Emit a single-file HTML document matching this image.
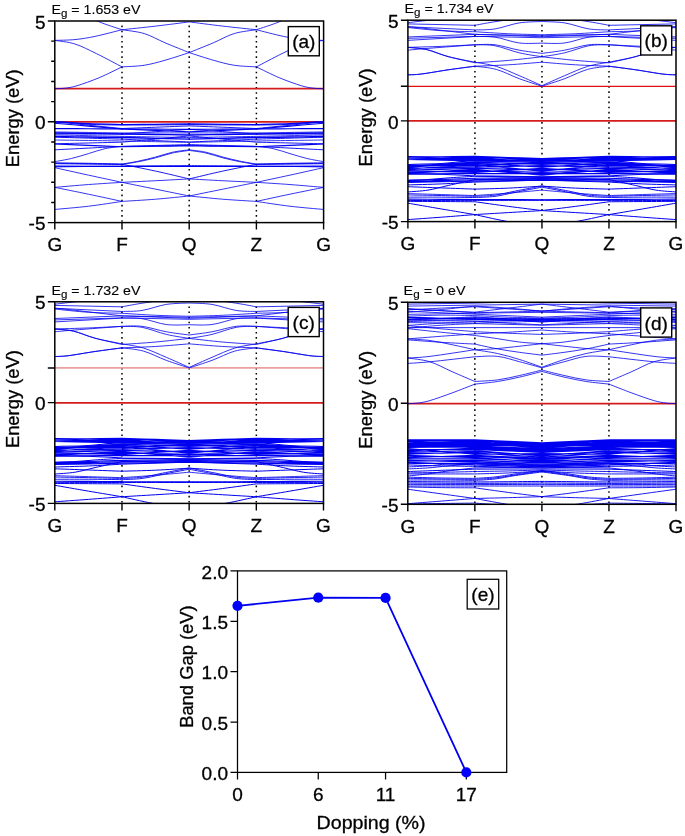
<!DOCTYPE html><html><head><meta charset="utf-8"><style>html,body{margin:0;padding:0;background:#fff;}svg{display:block;will-change:transform;}</style></head><body>
<svg width="685" height="836" viewBox="0 0 685 836" font-family='"Liberation Sans", sans-serif'><style>text{stroke:#000;stroke-width:0.3px;}</style>
<rect width="685" height="836" fill="#fff"/>
<clipPath id="clipa"><rect x="54.80" y="21.00" width="268.80" height="201.60"/></clipPath>
<line x1="122.00" y1="25.60" x2="122.00" y2="222.60" stroke="#000" stroke-width="1.5" stroke-dasharray="1.6 3.52"/>
<line x1="189.20" y1="25.60" x2="189.20" y2="222.60" stroke="#000" stroke-width="1.5" stroke-dasharray="1.6 3.52"/>
<line x1="256.40" y1="25.60" x2="256.40" y2="222.60" stroke="#000" stroke-width="1.5" stroke-dasharray="1.6 3.52"/>
<g clip-path="url(#clipa)">
<line x1="54.80" y1="121.90" x2="323.60" y2="121.90" stroke="#d41c1c" stroke-width="1.8"/>
<line x1="54.80" y1="88.71" x2="323.60" y2="88.71" stroke="#d41c1c" stroke-width="1.8"/>
</g>
<g clip-path="url(#clipa)" fill="none" stroke-linejoin="round">
<path stroke="#0000f0" stroke-width="0.80" d="M54.80 88.71C56.48 88.62 61.18 88.66 64.88 88.17C68.58 87.67 71.26 87.50 76.98 85.76C82.69 84.02 91.65 80.87 99.15 77.72C106.66 74.58 118.19 68.69 122.00 66.88M323.60 88.71C321.92 88.62 317.22 88.66 313.52 88.17C309.82 87.67 307.14 87.50 301.42 85.76C295.71 84.02 286.75 80.87 279.25 77.72C271.74 74.58 260.21 68.69 256.40 66.88M122.00 66.88C125.70 66.61 137.01 66.38 144.18 65.27C151.34 64.17 157.50 62.36 165.01 60.25C172.51 58.15 185.17 53.90 189.20 52.62M256.40 66.88C252.70 66.61 241.39 66.38 234.22 65.27C227.06 64.17 220.90 62.36 213.39 60.25C205.89 58.15 193.23 53.90 189.20 52.62M54.80 40.38C58.16 40.98 68.02 41.78 74.96 43.99C81.90 46.20 88.62 49.81 96.46 53.63C104.30 57.44 117.74 64.67 122.00 66.88M323.60 40.38C320.24 40.98 310.38 41.78 303.44 43.99C296.50 46.20 289.78 49.81 281.94 53.63C274.10 57.44 260.66 64.67 256.40 66.88M54.80 40.38C58.16 40.24 68.24 40.24 74.96 39.57C81.68 38.90 87.28 38.00 95.12 36.36C102.96 34.72 117.52 30.84 122.00 29.73M323.60 40.38C320.24 40.24 310.16 40.24 303.44 39.57C296.72 38.90 291.12 38.00 283.28 36.36C275.44 34.72 260.88 30.84 256.40 29.73M122.00 29.73C127.60 29.13 144.40 27.42 155.60 26.12C166.80 24.81 183.60 22.60 189.20 21.90M256.40 29.73C250.80 29.13 234.00 27.42 222.80 26.12C211.60 24.81 194.80 22.60 189.20 21.90M74.96 9.45C78.88 11.46 90.64 18.12 98.48 21.50C106.32 24.88 118.08 28.36 122.00 29.73M303.44 9.45C299.52 11.46 287.76 18.12 279.92 21.50C272.08 24.88 260.32 28.36 256.40 29.73M122.00 29.73C125.70 30.37 137.01 31.37 144.18 33.55C151.34 35.72 157.50 39.61 165.01 42.78C172.51 45.96 185.17 50.98 189.20 52.62M256.40 29.73C252.70 30.37 241.39 31.37 234.22 33.55C227.06 35.72 220.90 39.61 213.39 42.78C205.89 45.96 193.23 50.98 189.20 52.62M54.80 131.94C60.40 132.02 77.20 132.27 88.40 132.44C99.60 132.61 116.40 132.86 122.00 132.94M323.60 131.94C318.00 132.02 301.20 132.27 290.00 132.44C278.80 132.61 262.00 132.86 256.40 132.94M122.00 132.94C127.60 132.94 144.40 132.94 155.60 132.94C166.80 132.94 183.60 132.94 189.20 132.94M256.40 132.94C250.80 132.94 234.00 132.94 222.80 132.94C211.60 132.94 194.80 132.94 189.20 132.94M54.80 134.95C60.40 135.07 77.20 135.42 88.40 135.65C99.60 135.89 116.40 136.24 122.00 136.36M323.60 134.95C318.00 135.07 301.20 135.42 290.00 135.65C278.80 135.89 262.00 136.24 256.40 136.36M122.00 136.36C127.60 136.46 144.40 136.76 155.60 136.96C166.80 137.16 183.60 137.46 189.20 137.56M256.40 136.36C250.80 136.46 234.00 136.76 222.80 136.96C211.60 137.16 194.80 137.46 189.20 137.56M54.80 139.97C60.40 140.06 77.20 140.31 88.40 140.47C99.60 140.64 116.40 140.89 122.00 140.98M323.60 139.97C318.00 140.06 301.20 140.31 290.00 140.47C278.80 140.64 262.00 140.89 256.40 140.98M122.00 140.98C127.60 141.09 144.40 141.44 155.60 141.68C166.80 141.91 183.60 142.26 189.20 142.38M256.40 140.98C250.80 141.09 234.00 141.44 222.80 141.68C211.60 141.91 194.80 142.26 189.20 142.38M54.80 161.66C57.60 161.12 66.00 159.78 71.60 158.45C77.20 157.11 82.80 155.27 88.40 153.63C94.00 151.99 99.60 149.81 105.20 148.61C110.80 147.40 119.20 146.77 122.00 146.40M323.60 161.66C320.80 161.12 312.40 159.78 306.80 158.45C301.20 157.11 295.60 155.27 290.00 153.63C284.40 151.99 278.80 149.81 273.20 148.61C267.60 147.40 259.20 146.77 256.40 146.40M122.00 146.40C127.60 146.33 144.40 146.16 155.60 146.00C166.80 145.83 183.60 145.49 189.20 145.39M256.40 146.40C250.80 146.33 234.00 146.16 222.80 146.00C211.60 145.83 194.80 145.49 189.20 145.39M54.80 162.86C60.40 162.93 77.20 163.06 88.40 163.26C99.60 163.47 116.40 163.93 122.00 164.07M323.60 162.86C318.00 162.93 301.20 163.06 290.00 163.26C278.80 163.47 262.00 163.93 256.40 164.07M122.00 164.07C124.80 163.57 133.20 162.23 138.80 161.06C144.40 159.88 150.00 158.51 155.60 157.04C161.20 155.57 166.80 153.43 172.40 152.22C178.00 151.02 186.40 150.21 189.20 149.81M256.40 164.07C253.60 163.57 245.20 162.23 239.60 161.06C234.00 159.88 228.40 158.51 222.80 157.04C217.20 155.57 211.60 153.43 206.00 152.22C200.40 151.02 192.00 150.21 189.20 149.81M54.80 163.26C60.40 163.33 77.20 163.47 88.40 163.67C99.60 163.87 116.40 164.34 122.00 164.47M323.60 163.26C318.00 163.33 301.20 163.47 290.00 163.67C278.80 163.87 262.00 164.34 256.40 164.47M122.00 164.47C124.80 164.00 133.20 162.76 138.80 161.66C144.40 160.55 150.00 159.28 155.60 157.84C161.20 156.40 166.80 154.26 172.40 153.02C178.00 151.79 186.40 150.85 189.20 150.41M256.40 164.47C253.60 164.00 245.20 162.76 239.60 161.66C234.00 160.55 228.40 159.28 222.80 157.84C217.20 156.40 211.60 154.26 206.00 153.02C200.40 151.79 192.00 150.85 189.20 150.41M54.80 167.68C60.40 168.92 77.20 172.67 88.40 175.11C99.60 177.56 116.40 181.14 122.00 182.34M323.60 167.68C318.00 168.92 301.20 172.67 290.00 175.11C278.80 177.56 262.00 181.14 256.40 182.34M122.00 182.34C127.60 182.07 144.40 181.30 155.60 180.73C166.80 180.17 183.60 179.23 189.20 178.93M256.40 182.34C250.80 182.07 234.00 181.30 222.80 180.73C211.60 180.17 194.80 179.23 189.20 178.93M54.80 187.36C60.40 186.89 77.20 185.39 88.40 184.55C99.60 183.71 116.40 182.71 122.00 182.34M323.60 187.36C318.00 186.89 301.20 185.39 290.00 184.55C278.80 183.71 262.00 182.71 256.40 182.34M122.00 182.34C127.60 183.48 144.40 186.89 155.60 189.17C166.80 191.44 183.60 194.86 189.20 196.00M256.40 182.34C250.80 183.48 234.00 186.89 222.80 189.17C211.60 191.44 194.80 194.86 189.20 196.00M54.80 187.36C60.40 188.50 77.20 191.85 88.40 194.19C99.60 196.53 116.40 200.21 122.00 201.42M323.60 187.36C318.00 188.50 301.20 191.85 290.00 194.19C278.80 196.53 262.00 200.21 256.40 201.42M122.00 201.42C127.60 201.05 144.40 200.11 155.60 199.21C166.80 198.30 183.60 196.53 189.20 196.00M256.40 201.42C250.80 201.05 234.00 200.11 222.80 199.21C211.60 198.30 194.80 196.53 189.20 196.00M54.80 209.45C60.40 208.91 77.20 207.57 88.40 206.24C99.60 204.90 116.40 202.22 122.00 201.42M323.60 209.45C318.00 208.91 301.20 207.57 290.00 206.24C278.80 204.90 262.00 202.22 256.40 201.42"/>
<path stroke="#0000f0" stroke-width="0.90" d="M54.80 121.90C57.04 122.00 62.64 122.10 68.24 122.50C73.84 122.90 79.44 123.87 88.40 124.31C97.36 124.74 116.40 124.98 122.00 125.11M323.60 121.90C321.36 122.00 315.76 122.10 310.16 122.50C304.56 122.90 298.96 123.87 290.00 124.31C281.04 124.74 262.00 124.98 256.40 125.11M122.00 125.11C127.60 125.08 144.40 124.98 155.60 124.91C166.80 124.85 183.60 124.74 189.20 124.71M256.40 125.11C250.80 125.08 234.00 124.98 222.80 124.91C211.60 124.85 194.80 124.74 189.20 124.71M54.80 121.90C60.40 122.45 77.20 124.11 88.40 125.21C99.60 126.32 116.40 127.97 122.00 128.53M323.60 121.90C318.00 122.45 301.20 124.11 290.00 125.21C278.80 126.32 262.00 127.97 256.40 128.53M122.00 128.53C127.60 128.31 144.40 127.66 155.60 127.22C166.80 126.79 183.60 126.13 189.20 125.92M256.40 128.53C250.80 128.31 234.00 127.66 222.80 127.22C211.60 126.79 194.80 126.13 189.20 125.92M54.80 133.95C60.40 133.95 77.20 133.95 88.40 133.95C99.60 133.95 116.40 133.95 122.00 133.95M323.60 133.95C318.00 133.95 301.20 133.95 290.00 133.95C278.80 133.95 262.00 133.95 256.40 133.95M122.00 133.95C127.60 133.56 144.40 132.41 155.60 131.64C166.80 130.87 183.60 129.71 189.20 129.33M256.40 133.95C250.80 133.56 234.00 132.41 222.80 131.64C211.60 130.87 194.80 129.71 189.20 129.33M54.80 137.16C60.40 137.33 77.20 137.83 88.40 138.16C99.60 138.50 116.40 139.00 122.00 139.17M323.60 137.16C318.00 137.33 301.20 137.83 290.00 138.16C278.80 138.50 262.00 139.00 256.40 139.17M122.00 139.17C127.60 139.40 144.40 140.11 155.60 140.57C166.80 141.04 183.60 141.75 189.20 141.98M256.40 139.17C250.80 139.40 234.00 140.11 222.80 140.57C211.60 141.04 194.80 141.75 189.20 141.98M54.80 143.79C60.40 143.65 77.20 143.25 88.40 142.98C99.60 142.72 116.40 142.31 122.00 142.18M323.60 143.79C318.00 143.65 301.20 143.25 290.00 142.98C278.80 142.72 262.00 142.31 256.40 142.18M122.00 142.18C127.60 141.66 144.40 140.11 155.60 139.07C166.80 138.03 183.60 136.47 189.20 135.96M256.40 142.18C250.80 141.66 234.00 140.11 222.80 139.07C211.60 138.03 194.80 136.47 189.20 135.96M54.80 149.81C60.40 149.53 77.20 148.67 88.40 148.10C99.60 147.54 116.40 146.68 122.00 146.40M323.60 149.81C318.00 149.53 301.20 148.67 290.00 148.10C278.80 147.54 262.00 146.68 256.40 146.40M122.00 146.40C127.60 146.25 144.40 145.80 155.60 145.49C166.80 145.19 183.60 144.74 189.20 144.59M256.40 146.40C250.80 146.25 234.00 145.80 222.80 145.49C211.60 145.19 194.80 144.74 189.20 144.59M54.80 163.67C60.40 163.73 77.20 163.97 88.40 164.07C99.60 164.17 116.40 164.24 122.00 164.27M323.60 163.67C318.00 163.73 301.20 163.97 290.00 164.07C278.80 164.17 262.00 164.24 256.40 164.27M122.00 164.27C127.60 165.41 144.40 168.65 155.60 171.10C166.80 173.54 183.60 177.62 189.20 178.93M256.40 164.27C250.80 165.41 234.00 168.65 222.80 171.10C211.60 173.54 194.80 177.62 189.20 178.93"/>
<path stroke="#0000f0" stroke-width="1.00" d="M54.80 166.88C66.00 166.75 99.60 166.28 122.00 166.08C144.40 165.88 178.00 165.74 189.20 165.67M323.60 166.88C312.40 166.75 278.80 166.28 256.40 166.08C234.00 165.88 200.40 165.74 189.20 165.67"/>
<path stroke="#0000f0" stroke-width="1.10" d="M54.80 123.31C60.40 123.77 77.20 125.18 88.40 126.12C99.60 127.05 116.40 128.46 122.00 128.93M323.60 123.31C318.00 123.77 301.20 125.18 290.00 126.12C278.80 127.05 262.00 128.46 256.40 128.93M122.00 128.93C127.60 128.96 144.40 129.06 155.60 129.13C166.80 129.20 183.60 129.30 189.20 129.33M256.40 128.93C250.80 128.96 234.00 129.06 222.80 129.13C211.60 129.20 194.80 129.30 189.20 129.33M54.80 143.99C60.40 144.22 77.20 144.93 88.40 145.39C99.60 145.86 116.40 146.56 122.00 146.80M323.60 143.99C318.00 144.22 301.20 144.93 290.00 145.39C278.80 145.86 262.00 146.56 256.40 146.80M122.00 146.80C127.60 146.72 144.40 146.46 155.60 146.30C166.80 146.13 183.60 145.88 189.20 145.80M256.40 146.80C250.80 146.72 234.00 146.46 222.80 146.30C211.60 146.13 194.80 145.88 189.20 145.80M54.80 166.08C66.00 166.14 99.60 166.41 122.00 166.48C144.40 166.54 178.00 166.48 189.20 166.48M323.60 166.08C312.40 166.14 278.80 166.41 256.40 166.48C234.00 166.54 200.40 166.48 189.20 166.48"/>
<path stroke="#0000f0" stroke-width="1.20" d="M54.80 121.90C57.04 121.97 62.64 122.00 68.24 122.30C73.84 122.60 79.44 123.34 88.40 123.71C97.36 124.08 116.40 124.38 122.00 124.51M323.60 121.90C321.36 121.97 315.76 122.00 310.16 122.30C304.56 122.60 298.96 123.34 290.00 123.71C281.04 124.08 262.00 124.38 256.40 124.51M122.00 124.51C127.60 124.48 144.40 124.41 155.60 124.31C166.80 124.21 183.60 123.97 189.20 123.91M256.40 124.51C250.80 124.48 234.00 124.41 222.80 124.31C211.60 124.21 194.80 123.97 189.20 123.91M54.80 128.53C60.40 128.56 77.20 128.66 88.40 128.73C99.60 128.79 116.40 128.89 122.00 128.93M323.60 128.53C318.00 128.56 301.20 128.66 290.00 128.73C278.80 128.79 262.00 128.89 256.40 128.93M122.00 128.93C127.60 129.18 144.40 129.93 155.60 130.43C166.80 130.94 183.60 131.69 189.20 131.94M256.40 128.93C250.80 129.18 234.00 129.93 222.80 130.43C211.60 130.94 194.80 131.69 189.20 131.94"/>
<path stroke="#0000f0" stroke-width="1.40" d="M54.80 132.94C60.40 133.03 77.20 133.28 88.40 133.45C99.60 133.61 116.40 133.86 122.00 133.95M323.60 132.94C318.00 133.03 301.20 133.28 290.00 133.45C278.80 133.61 262.00 133.86 256.40 133.95M122.00 133.95C127.60 134.03 144.40 134.28 155.60 134.45C166.80 134.62 183.60 134.87 189.20 134.95M256.40 133.95C250.80 134.03 234.00 134.28 222.80 134.45C211.60 134.62 194.80 134.87 189.20 134.95M54.80 136.56C60.40 136.64 77.20 136.89 88.40 137.06C99.60 137.23 116.40 137.48 122.00 137.56M323.60 136.56C318.00 136.64 301.20 136.89 290.00 137.06C278.80 137.23 262.00 137.48 256.40 137.56M122.00 137.56C127.60 137.70 144.40 138.10 155.60 138.37C166.80 138.63 183.60 139.03 189.20 139.17M256.40 137.56C250.80 137.70 234.00 138.10 222.80 138.37C211.60 138.63 194.80 139.03 189.20 139.17"/>
</g>
<rect x="54.80" y="21.00" width="268.80" height="201.60" fill="none" stroke="#000" stroke-width="1.5"/>
<path d="M47.80 222.60H54.80M51.20 202.44H54.80M51.20 182.28H54.80M51.20 162.12H54.80M51.20 141.96H54.80M47.80 121.80H54.80M51.20 101.64H54.80M51.20 81.48H54.80M51.20 61.32H54.80M51.20 41.16H54.80M47.80 21.00H54.80M54.80 222.60V229.60M122.00 222.60V229.60M189.20 222.60V229.60M256.40 222.60V229.60M323.60 222.60V229.60" stroke="#000" stroke-width="1.4" fill="none"/>
<text x="45.50" y="28.60" font-size="19" text-anchor="end">5</text>
<text x="45.50" y="129.40" font-size="19" text-anchor="end">0</text>
<text x="45.50" y="230.20" font-size="19" text-anchor="end">-5</text>
<text x="54.80" y="251.00" font-size="19" text-anchor="middle">G</text>
<text x="122.00" y="251.00" font-size="19" text-anchor="middle">F</text>
<text x="189.20" y="251.00" font-size="19" text-anchor="middle">Q</text>
<text x="256.40" y="251.00" font-size="19" text-anchor="middle">Z</text>
<text x="323.60" y="251.00" font-size="19" text-anchor="middle">G</text>
<text transform="translate(18.80 118.30) rotate(-90)" font-size="19" text-anchor="middle" textLength="98" lengthAdjust="spacingAndGlyphs">Energy (eV)</text>
<text x="51.45" y="13.70" font-size="13.3" style="stroke-width:0.12px" textLength="89.0" lengthAdjust="spacingAndGlyphs">E<tspan font-size="10.8" dy="3.2">g</tspan><tspan dy="-3.2"> = 1.653 eV</tspan></text>
<rect x="288.30" y="26.60" width="31.00" height="29.20" fill="#fff" stroke="#000" stroke-width="1.4"/>
<text x="303.80" y="48.20" font-size="19" text-anchor="middle">(a)</text>
<clipPath id="clipb"><rect x="407.90" y="20.20" width="268.10" height="201.40"/></clipPath>
<line x1="474.92" y1="24.80" x2="474.92" y2="221.60" stroke="#000" stroke-width="1.5" stroke-dasharray="1.6 3.52"/>
<line x1="541.95" y1="24.80" x2="541.95" y2="221.60" stroke="#000" stroke-width="1.5" stroke-dasharray="1.6 3.52"/>
<line x1="608.98" y1="24.80" x2="608.98" y2="221.60" stroke="#000" stroke-width="1.5" stroke-dasharray="1.6 3.52"/>
<g clip-path="url(#clipb)">
<line x1="407.90" y1="120.95" x2="676.00" y2="120.95" stroke="#d41c1c" stroke-width="1.8"/>
<line x1="407.90" y1="86.40" x2="676.00" y2="86.40" stroke="#dd1111" stroke-width="1.4"/>
</g>
<g clip-path="url(#clipb)" fill="none" stroke-linejoin="round">
<path stroke="#0000f0" stroke-width="0.80" d="M407.90 74.84C410.13 74.70 414.60 74.87 421.30 74.03C428.01 73.20 439.18 71.13 448.12 69.82C457.05 68.52 470.46 66.82 474.92 66.21M676.00 74.84C673.77 74.70 669.30 74.87 662.60 74.03C655.89 73.20 644.72 71.13 635.78 69.82C626.85 68.52 613.44 66.82 608.98 66.21M474.92 66.21C478.50 66.75 489.00 67.35 496.37 69.42C503.75 71.49 511.57 75.85 519.16 78.64C526.76 81.44 538.15 84.93 541.95 86.18M608.98 66.21C605.40 66.75 594.90 67.35 587.53 69.42C580.15 71.49 572.33 75.85 564.74 78.64C557.14 81.44 545.75 84.93 541.95 86.18M407.90 74.84C410.13 74.70 414.60 74.87 421.30 74.03C428.01 73.20 439.18 71.13 448.12 69.82C457.05 68.52 470.46 66.82 474.92 66.21M676.00 74.84C673.77 74.70 669.30 74.87 662.60 74.03C655.89 73.20 644.72 71.13 635.78 69.82C626.85 68.52 613.44 66.82 608.98 66.21M474.92 66.21C480.51 65.98 497.27 65.48 508.44 64.81C519.61 64.14 536.36 62.64 541.95 62.20M608.98 66.21C603.39 65.98 586.63 65.48 575.46 64.81C564.29 64.14 547.54 62.64 541.95 62.20M407.90 47.37C411.03 47.73 419.96 48.03 426.67 49.57C433.37 51.11 440.07 54.48 448.12 56.59C456.16 58.69 470.46 61.27 474.92 62.20M676.00 47.37C672.87 47.73 663.94 48.03 657.23 49.57C650.53 51.11 643.83 54.48 635.78 56.59C627.74 58.69 613.44 61.27 608.98 62.20M474.92 62.20C478.50 62.91 489.00 64.18 496.37 66.41C503.75 68.65 511.57 72.43 519.16 75.64C526.76 78.84 538.15 83.99 541.95 85.66M608.98 62.20C605.40 62.91 594.90 64.18 587.53 66.41C580.15 68.65 572.33 72.43 564.74 75.64C557.14 78.84 545.75 83.99 541.95 85.66M407.90 47.37C411.03 47.73 419.96 48.03 426.67 49.57C433.37 51.11 440.07 54.38 448.12 56.59C456.16 58.80 470.46 61.77 474.92 62.80M676.00 47.37C672.87 47.73 663.94 48.03 657.23 49.57C650.53 51.11 643.83 54.38 635.78 56.59C627.74 58.80 613.44 61.77 608.98 62.80M474.92 62.80C480.51 62.40 497.27 61.40 508.44 60.40C519.61 59.40 536.36 57.39 541.95 56.79M608.98 62.80C603.39 62.40 586.63 61.40 575.46 60.40C564.29 59.40 547.54 57.39 541.95 56.79M407.90 50.17C411.25 49.87 416.84 49.27 428.01 48.37C439.18 47.47 467.11 45.36 474.92 44.76M676.00 50.17C672.65 49.87 667.06 49.27 655.89 48.37C644.72 47.47 616.79 45.36 608.98 44.76M474.92 44.76C478.28 44.76 487.66 43.86 495.03 44.76C502.41 45.66 511.34 48.74 519.16 50.17C526.98 51.61 538.15 52.85 541.95 53.38M608.98 44.76C605.62 44.76 596.24 43.86 588.87 44.76C581.49 45.66 572.56 48.74 564.74 50.17C556.92 51.61 545.75 52.85 541.95 53.38M407.90 47.37C413.49 47.20 430.24 46.80 441.41 46.36C452.58 45.93 469.34 45.03 474.92 44.76M676.00 47.37C670.41 47.20 653.66 46.80 642.49 46.36C631.32 45.93 614.56 45.03 608.98 44.76M474.92 44.76C478.28 44.93 487.66 44.43 495.03 45.76C502.41 47.10 511.34 50.94 519.16 52.78C526.98 54.62 538.15 56.12 541.95 56.79M608.98 44.76C605.62 44.93 596.24 44.43 588.87 45.76C581.49 47.10 572.56 50.94 564.74 52.78C556.92 54.62 545.75 56.12 541.95 56.79M407.90 40.35L474.92 36.54M676.00 40.35L608.98 36.54M474.92 36.54C478.28 36.64 487.66 36.07 495.03 37.14C502.41 38.21 511.34 41.95 519.16 42.96C526.98 43.96 538.15 43.12 541.95 43.16M608.98 36.54C605.62 36.64 596.24 36.07 588.87 37.14C581.49 38.21 572.56 41.95 564.74 42.96C556.92 43.96 545.75 43.12 541.95 43.16M407.90 36.94L474.92 34.33M676.00 36.94L608.98 34.33M474.92 34.33L541.95 36.74M608.98 34.33L541.95 36.74M407.90 38.34L474.92 36.34M676.00 38.34L608.98 36.34M474.92 36.34L541.95 37.74M608.98 36.34L541.95 37.74M407.90 26.71C411.25 27.05 416.84 27.45 428.01 28.72C439.18 29.99 467.11 33.40 474.92 34.33M676.00 26.71C672.65 27.05 667.06 27.45 655.89 28.72C644.72 29.99 616.79 33.40 608.98 34.33M474.92 34.33L541.95 35.74M608.98 34.33L541.95 35.74M407.90 26.71L474.92 29.92M676.00 26.71L608.98 29.92M474.92 29.92C478.28 29.76 487.66 30.09 495.03 28.92C502.41 27.75 511.34 24.14 519.16 22.91C526.98 21.67 538.15 21.74 541.95 21.50M608.98 29.92C605.62 29.76 596.24 30.09 588.87 28.92C581.49 27.75 572.56 24.14 564.74 22.91C556.92 21.67 545.75 21.74 541.95 21.50M407.90 23.91L474.92 25.31M676.00 23.91L608.98 25.31M474.92 25.31C478.28 24.71 483.86 23.47 495.03 21.70C506.20 19.93 534.13 15.85 541.95 14.69M608.98 25.31C605.62 24.71 600.04 23.47 588.87 21.70C577.70 19.93 549.77 15.85 541.95 14.69M407.90 22.70C413.49 22.04 430.24 20.03 441.41 18.70C452.58 17.36 469.34 15.35 474.92 14.69M676.00 22.70C670.41 22.04 653.66 20.03 642.49 18.70C631.32 17.36 614.56 15.35 608.98 14.69M407.90 27.52C413.49 28.05 430.24 30.02 441.41 30.72C452.58 31.43 469.34 31.56 474.92 31.73M676.00 27.52C670.41 28.05 653.66 30.02 642.49 30.72C631.32 31.43 614.56 31.56 608.98 31.73M474.92 31.73C480.51 32.06 497.27 33.23 508.44 33.73C519.61 34.23 536.36 34.57 541.95 34.73M608.98 31.73C603.39 32.06 586.63 33.23 575.46 33.73C564.29 34.23 547.54 34.57 541.95 34.73M407.90 193.53C413.49 193.70 430.24 194.20 441.41 194.53C452.58 194.87 469.34 195.37 474.92 195.54M676.00 193.53C670.41 193.70 653.66 194.20 642.49 194.53C631.32 194.87 614.56 195.37 608.98 195.54M474.92 195.54C480.51 195.13 497.27 194.03 508.44 193.13C519.61 192.23 536.36 190.62 541.95 190.12M608.98 195.54C603.39 195.13 586.63 194.03 575.46 193.13C564.29 192.23 547.54 190.62 541.95 190.12"/>
<path stroke="#0000f0" stroke-width="0.90" d="M407.90 194.93C413.49 195.03 430.24 195.30 441.41 195.54C452.58 195.77 469.34 196.20 474.92 196.34M676.00 194.93C670.41 195.03 653.66 195.30 642.49 195.54C631.32 195.77 614.56 196.20 608.98 196.34M474.92 196.34C478.28 196.14 488.33 196.00 495.03 195.13C501.73 194.27 507.32 192.66 515.14 191.12C522.96 189.59 537.48 186.78 541.95 185.91M608.98 196.34C605.62 196.14 595.57 196.00 588.87 195.13C582.17 194.27 576.58 192.66 568.76 191.12C560.94 189.59 546.42 186.78 541.95 185.91M407.90 197.14C413.49 197.14 430.24 197.07 441.41 197.14C452.58 197.21 469.34 197.47 474.92 197.54M676.00 197.14C670.41 197.14 653.66 197.07 642.49 197.14C631.32 197.21 614.56 197.47 608.98 197.54M474.92 197.54C478.28 197.34 488.33 197.21 495.03 196.34C501.73 195.47 507.32 193.87 515.14 192.33C522.96 190.79 537.48 187.98 541.95 187.12M608.98 197.54C605.62 197.34 595.57 197.21 588.87 196.34C582.17 195.47 576.58 193.87 568.76 192.33C560.94 190.79 546.42 187.98 541.95 187.12"/>
<path stroke="#0000f0" stroke-width="1.00" d="M407.90 180.10C411.25 180.00 421.31 179.86 428.01 179.50C434.71 179.13 441.41 178.36 448.12 177.89C454.82 177.42 463.75 176.96 468.22 176.69C472.69 176.42 473.81 176.35 474.92 176.29M676.00 180.10C672.65 180.00 662.60 179.86 655.89 179.50C649.19 179.13 642.49 178.36 635.78 177.89C629.08 177.42 620.15 176.96 615.68 176.69C611.21 176.42 610.09 176.35 608.98 176.29M474.92 176.29L541.95 177.09M608.98 176.29L541.95 177.09M407.90 184.91C413.49 184.74 430.24 184.37 441.41 183.91C452.58 183.44 469.34 182.40 474.92 182.10M676.00 184.91C670.41 184.74 653.66 184.37 642.49 183.91C631.32 183.44 614.56 182.40 608.98 182.10M474.92 182.10L541.95 180.10M608.98 182.10L541.95 180.10M407.90 186.71C413.49 186.91 430.24 187.52 441.41 187.92C452.58 188.32 469.34 188.92 474.92 189.12M676.00 186.71C670.41 186.91 653.66 187.52 642.49 187.92C631.32 188.32 614.56 188.92 608.98 189.12M474.92 189.12C480.51 188.95 497.27 188.62 508.44 188.12C519.61 187.62 536.36 186.45 541.95 186.11M608.98 189.12C603.39 188.95 586.63 188.62 575.46 188.12C564.29 187.62 547.54 186.45 541.95 186.11M407.90 191.93C411.25 191.63 421.31 191.19 428.01 190.12C434.71 189.05 440.30 187.28 448.12 185.51C455.93 183.74 470.46 180.50 474.92 179.50M676.00 191.93C672.65 191.63 662.60 191.19 655.89 190.12C649.19 189.05 643.60 187.28 635.78 185.51C627.97 183.74 613.44 180.50 608.98 179.50M474.92 179.50L541.95 178.69M608.98 179.50L541.95 178.69M407.90 200.55C413.49 200.53 430.24 200.48 441.41 200.45C452.58 200.41 469.34 200.36 474.92 200.35M676.00 200.55C670.41 200.53 653.66 200.48 642.49 200.45C631.32 200.41 614.56 200.36 608.98 200.35M474.92 200.35C480.51 200.35 497.27 200.35 508.44 200.35C519.61 200.35 536.36 200.35 541.95 200.35M608.98 200.35C603.39 200.35 586.63 200.35 575.46 200.35C564.29 200.35 547.54 200.35 541.95 200.35M407.90 201.35C413.49 201.38 430.24 201.48 441.41 201.55C452.58 201.62 469.34 201.72 474.92 201.75M676.00 201.35C670.41 201.38 653.66 201.48 642.49 201.55C631.32 201.62 614.56 201.72 608.98 201.75M474.92 201.75C480.51 202.52 497.27 204.89 508.44 206.36C519.61 207.83 536.36 209.87 541.95 210.57M608.98 201.75C603.39 202.52 586.63 204.89 575.46 206.36C564.29 207.83 547.54 209.87 541.95 210.57M407.90 203.16C413.49 204.12 430.24 207.06 441.41 208.97C452.58 210.87 469.34 213.65 474.92 214.58M676.00 203.16C670.41 204.12 653.66 207.06 642.49 208.97C631.32 210.87 614.56 213.65 608.98 214.58M474.92 214.58C480.06 215.69 494.59 219.09 505.76 221.20C516.93 223.31 535.92 226.21 541.95 227.22M608.98 214.58C603.84 215.69 589.31 219.09 578.14 221.20C566.97 223.31 547.98 226.21 541.95 227.22M407.90 219.60C413.49 219.19 430.24 218.03 441.41 217.19C452.58 216.35 469.34 215.02 474.92 214.58M676.00 219.60C670.41 219.19 653.66 218.03 642.49 217.19C631.32 216.35 614.56 215.02 608.98 214.58M474.92 214.58C480.51 214.25 497.27 213.25 508.44 212.58C519.61 211.91 536.36 210.91 541.95 210.57M608.98 214.58C603.39 214.25 586.63 213.25 575.46 212.58C564.29 211.91 547.54 210.91 541.95 210.57"/>
<path stroke="#0000f0" stroke-width="1.10" d="M407.90 164.46C413.49 164.29 432.48 163.92 441.41 163.46C450.35 162.99 455.93 162.09 461.52 161.65C467.11 161.22 472.69 160.98 474.92 160.85M676.00 164.46C670.41 164.29 651.42 163.92 642.49 163.46C633.55 162.99 627.97 162.09 622.38 161.65C616.79 161.22 611.21 160.98 608.98 160.85M474.92 160.85L541.95 162.65M608.98 160.85L541.95 162.65M407.90 173.68C413.49 173.78 431.36 173.98 441.41 174.28C451.47 174.58 462.64 175.22 468.22 175.49C473.81 175.75 473.81 175.82 474.92 175.89M676.00 173.68C670.41 173.78 652.54 173.98 642.49 174.28C632.43 174.58 621.26 175.22 615.68 175.49C610.09 175.75 610.09 175.82 608.98 175.89M474.92 175.89L541.95 176.69M608.98 175.89L541.95 176.69M407.90 180.50C413.49 180.31 430.24 179.76 441.41 179.40C452.58 179.03 469.34 178.48 474.92 178.29M676.00 180.50C670.41 180.31 653.66 179.76 642.49 179.40C631.32 179.03 614.56 178.48 608.98 178.29M474.92 178.29C480.51 178.23 497.27 178.03 508.44 177.89C519.61 177.76 536.36 177.56 541.95 177.49M608.98 178.29C603.39 178.23 586.63 178.03 575.46 177.89C564.29 177.76 547.54 177.56 541.95 177.49M407.90 181.50C413.49 181.35 430.24 180.90 441.41 180.60C452.58 180.30 469.34 179.85 474.92 179.70M676.00 181.50C670.41 181.35 653.66 180.90 642.49 180.60C631.32 180.30 614.56 179.85 608.98 179.70M474.92 179.70C480.51 179.62 497.27 179.40 508.44 179.25C519.61 179.10 536.36 178.87 541.95 178.79M608.98 179.70C603.39 179.62 586.63 179.40 575.46 179.25C564.29 179.10 547.54 178.87 541.95 178.79M407.90 182.50C413.49 182.39 430.24 182.04 441.41 181.80C452.58 181.57 469.34 181.22 474.92 181.10M676.00 182.50C670.41 182.39 653.66 182.04 642.49 181.80C631.32 181.57 614.56 181.22 608.98 181.10M474.92 181.10C480.51 181.02 497.27 180.77 508.44 180.60C519.61 180.43 536.36 180.18 541.95 180.10M608.98 181.10C603.39 181.02 586.63 180.77 575.46 180.60C564.29 180.43 547.54 180.18 541.95 180.10"/>
<path stroke="#0000f0" stroke-width="1.20" d="M407.90 199.15C413.49 199.18 430.24 199.28 441.41 199.35C452.58 199.41 469.34 199.51 474.92 199.55M676.00 199.15C670.41 199.18 653.66 199.28 642.49 199.35C631.32 199.41 614.56 199.51 608.98 199.55M474.92 199.55C480.51 199.56 497.27 199.61 508.44 199.65C519.61 199.68 536.36 199.73 541.95 199.75M608.98 199.55C603.39 199.56 586.63 199.61 575.46 199.65C564.29 199.68 547.54 199.73 541.95 199.75"/>
<path stroke="#0000f0" stroke-width="1.30" d="M407.90 156.64C413.49 156.69 430.24 156.85 441.41 156.96C452.58 157.07 469.34 157.23 474.92 157.28M676.00 156.64C670.41 156.69 653.66 156.85 642.49 156.96C631.32 157.07 614.56 157.23 608.98 157.28M474.92 157.28C480.51 157.45 497.27 157.96 508.44 158.30C519.61 158.64 536.36 159.16 541.95 159.33M608.98 157.28C603.39 157.45 586.63 157.96 575.46 158.30C564.29 158.64 547.54 159.16 541.95 159.33M407.90 157.20C413.49 157.14 430.24 156.95 441.41 156.82C452.58 156.69 469.34 156.50 474.92 156.44M676.00 157.20C670.41 157.14 653.66 156.95 642.49 156.82C631.32 156.69 614.56 156.50 608.98 156.44M474.92 156.44C480.51 156.62 497.27 157.17 508.44 157.54C519.61 157.91 536.36 158.46 541.95 158.64M608.98 156.44C603.39 156.62 586.63 157.17 575.46 157.54C564.29 157.91 547.54 158.46 541.95 158.64M407.90 157.76C413.49 157.86 430.24 158.16 441.41 158.36C452.58 158.56 469.34 158.86 474.92 158.96M676.00 157.76C670.41 157.86 653.66 158.16 642.49 158.36C631.32 158.56 614.56 158.86 608.98 158.96M474.92 158.96C480.51 159.11 497.27 159.54 508.44 159.83C519.61 160.11 536.36 160.55 541.95 160.69M608.98 158.96C603.39 159.11 586.63 159.54 575.46 159.83C564.29 160.11 547.54 160.55 541.95 160.69M407.90 158.32C413.49 158.45 430.24 158.82 441.41 159.07C452.58 159.31 469.34 159.68 474.92 159.81M676.00 158.32C670.41 158.45 653.66 158.82 642.49 159.07C631.32 159.31 614.56 159.68 608.98 159.81M474.92 159.81C480.51 159.82 497.27 159.87 508.44 159.91C519.61 159.94 536.36 159.99 541.95 160.01M608.98 159.81C603.39 159.82 586.63 159.87 575.46 159.91C564.29 159.94 547.54 159.99 541.95 160.01M407.90 158.88C413.49 158.82 430.24 158.63 441.41 158.50C452.58 158.38 469.34 158.19 474.92 158.12M676.00 158.88C670.41 158.82 653.66 158.63 642.49 158.50C631.32 158.38 614.56 158.19 608.98 158.12M474.92 158.12C480.51 158.45 497.27 159.43 508.44 160.09C519.61 160.74 536.36 161.73 541.95 162.05M608.98 158.12C603.39 158.45 586.63 159.43 575.46 160.09C564.29 160.74 547.54 161.73 541.95 162.05M407.90 159.45C413.49 159.55 430.24 159.85 441.41 160.05C452.58 160.25 469.34 160.55 474.92 160.65M676.00 159.45C670.41 159.55 653.66 159.85 642.49 160.05C631.32 160.25 614.56 160.55 608.98 160.65M474.92 160.65C480.51 160.71 497.27 160.89 508.44 161.01C519.61 161.13 536.36 161.31 541.95 161.37M608.98 160.65C603.39 160.71 586.63 160.89 575.46 161.01C564.29 161.13 547.54 161.31 541.95 161.37M407.90 165.06C413.49 165.13 430.24 165.33 441.41 165.46C452.58 165.59 469.34 165.80 474.92 165.86M676.00 165.06C670.41 165.13 653.66 165.33 642.49 165.46C631.32 165.59 614.56 165.80 608.98 165.86M474.92 165.86C480.51 165.63 497.27 164.93 508.44 164.46C519.61 163.99 536.36 163.29 541.95 163.06M608.98 165.86C603.39 165.63 586.63 164.93 575.46 164.46C564.29 163.99 547.54 163.29 541.95 163.06M407.90 166.06C413.49 165.73 430.24 164.73 441.41 164.06C452.58 163.39 469.34 162.39 474.92 162.05M676.00 166.06C670.41 165.73 653.66 164.73 642.49 164.06C631.32 163.39 614.56 162.39 608.98 162.05M474.92 162.05C480.51 162.25 497.27 162.83 508.44 163.22C519.61 163.61 536.36 164.20 541.95 164.39M608.98 162.05C603.39 162.25 586.63 162.83 575.46 163.22C564.29 163.61 547.54 164.20 541.95 164.39M407.90 167.06C413.49 166.75 430.24 165.82 441.41 165.19C452.58 164.57 469.34 163.63 474.92 163.32M676.00 167.06C670.41 166.75 653.66 165.82 642.49 165.19C631.32 164.57 614.56 163.63 608.98 163.32M474.92 163.32C480.51 163.63 497.27 164.57 508.44 165.19C519.61 165.82 536.36 166.75 541.95 167.06M608.98 163.32C603.39 163.63 586.63 164.57 575.46 165.19C564.29 165.82 547.54 166.75 541.95 167.06M407.90 168.07C413.49 167.99 430.24 167.76 441.41 167.60C452.58 167.44 469.34 167.21 474.92 167.13M676.00 168.07C670.41 167.99 653.66 167.76 642.49 167.60C631.32 167.44 614.56 167.21 608.98 167.13M474.92 167.13C480.51 167.01 497.27 166.66 508.44 166.43C519.61 166.20 536.36 165.85 541.95 165.73M608.98 167.13C603.39 167.01 586.63 166.66 575.46 166.43C564.29 166.20 547.54 165.85 541.95 165.73M407.90 169.07C413.49 168.70 430.24 167.58 441.41 166.83C452.58 166.08 469.34 164.97 474.92 164.59M676.00 169.07C670.41 168.70 653.66 167.58 642.49 166.83C631.32 166.08 614.56 164.97 608.98 164.59M474.92 164.59C480.51 165.13 497.27 166.75 508.44 167.83C519.61 168.91 536.36 170.53 541.95 171.07M608.98 164.59C603.39 165.13 586.63 166.75 575.46 167.83C564.29 168.91 547.54 170.53 541.95 171.07M407.90 170.07C413.49 169.93 430.24 169.52 441.41 169.24C452.58 168.96 469.34 168.54 474.92 168.40M676.00 170.07C670.41 169.93 653.66 169.52 642.49 169.24C631.32 168.96 614.56 168.54 608.98 168.40M474.92 168.40C480.51 168.51 497.27 168.85 508.44 169.07C519.61 169.29 536.36 169.63 541.95 169.74M608.98 168.40C603.39 168.51 586.63 168.85 575.46 169.07C564.29 169.29 547.54 169.63 541.95 169.74M407.90 171.07C413.49 171.17 430.24 171.45 441.41 171.64C452.58 171.83 469.34 172.12 474.92 172.21M676.00 171.07C670.41 171.17 653.66 171.45 642.49 171.64C631.32 171.83 614.56 172.12 608.98 172.21M474.92 172.21C480.51 171.89 497.27 170.94 508.44 170.31C519.61 169.67 536.36 168.72 541.95 168.40M608.98 172.21C603.39 171.89 586.63 170.94 575.46 170.31C564.29 169.67 547.54 168.72 541.95 168.40M407.90 172.08C413.49 171.98 430.24 171.70 441.41 171.51C452.58 171.32 469.34 171.04 474.92 170.94M676.00 172.08C670.41 171.98 653.66 171.70 642.49 171.51C631.32 171.32 614.56 171.04 608.98 170.94M474.92 170.94C480.51 171.06 497.27 171.43 508.44 171.68C519.61 171.92 536.36 172.29 541.95 172.41M608.98 170.94C603.39 171.06 586.63 171.43 575.46 171.68C564.29 171.92 547.54 172.29 541.95 172.41M407.90 173.08C413.49 172.80 430.24 171.94 441.41 171.38C452.58 170.81 469.34 169.96 474.92 169.67M676.00 173.08C670.41 172.80 653.66 171.94 642.49 171.38C631.32 170.81 614.56 169.96 608.98 169.67M474.92 169.67C480.51 170.12 497.27 171.48 508.44 172.38C519.61 173.28 536.36 174.63 541.95 175.09M608.98 169.67C603.39 170.12 586.63 171.48 575.46 172.38C564.29 173.28 547.54 174.63 541.95 175.09M407.90 174.08C413.49 174.03 430.24 173.88 441.41 173.78C452.58 173.68 469.34 173.53 474.92 173.48M676.00 174.08C670.41 174.03 653.66 173.88 642.49 173.78C631.32 173.68 614.56 173.53 608.98 173.48M474.92 173.48C480.51 173.50 497.27 173.57 508.44 173.61C519.61 173.66 536.36 173.73 541.95 173.75M608.98 173.48C603.39 173.50 586.63 173.57 575.46 173.61C564.29 173.66 547.54 173.73 541.95 173.75"/>
</g>
<rect x="407.90" y="20.20" width="268.10" height="201.40" fill="none" stroke="#000" stroke-width="1.5"/>
<path d="M400.90 221.60H407.90M400.90 120.90H407.90M400.90 20.20H407.90M400.90 86.20H407.90M407.90 221.60V228.60M474.92 221.60V228.60M541.95 221.60V228.60M608.98 221.60V228.60M676.00 221.60V228.60" stroke="#000" stroke-width="1.4" fill="none"/>
<text x="398.60" y="27.80" font-size="19" text-anchor="end">5</text>
<text x="398.60" y="128.50" font-size="19" text-anchor="end">0</text>
<text x="398.60" y="229.20" font-size="19" text-anchor="end">-5</text>
<text x="407.90" y="250.00" font-size="19" text-anchor="middle">G</text>
<text x="474.92" y="250.00" font-size="19" text-anchor="middle">F</text>
<text x="541.95" y="250.00" font-size="19" text-anchor="middle">Q</text>
<text x="608.98" y="250.00" font-size="19" text-anchor="middle">Z</text>
<text x="676.00" y="250.00" font-size="19" text-anchor="middle">G</text>
<text transform="translate(371.90 117.40) rotate(-90)" font-size="19" text-anchor="middle" textLength="98" lengthAdjust="spacingAndGlyphs">Energy (eV)</text>
<text x="404.55" y="12.90" font-size="13.3" style="stroke-width:0.12px" textLength="89.0" lengthAdjust="spacingAndGlyphs">E<tspan font-size="10.8" dy="3.2">g</tspan><tspan dy="-3.2"> = 1.734 eV</tspan></text>
<rect x="640.70" y="25.80" width="31.00" height="29.20" fill="#fff" stroke="#000" stroke-width="1.4"/>
<text x="656.20" y="47.40" font-size="19" text-anchor="middle">(b)</text>
<clipPath id="clipc"><rect x="54.80" y="301.80" width="268.70" height="201.60"/></clipPath>
<line x1="121.97" y1="306.40" x2="121.97" y2="503.40" stroke="#000" stroke-width="1.5" stroke-dasharray="1.6 3.52"/>
<line x1="189.15" y1="306.40" x2="189.15" y2="503.40" stroke="#000" stroke-width="1.5" stroke-dasharray="1.6 3.52"/>
<line x1="256.32" y1="306.40" x2="256.32" y2="503.40" stroke="#000" stroke-width="1.5" stroke-dasharray="1.6 3.52"/>
<g clip-path="url(#clipc)">
<line x1="54.80" y1="402.80" x2="323.50" y2="402.80" stroke="#d41c1c" stroke-width="1.8"/>
<line x1="54.80" y1="367.95" x2="323.50" y2="367.95" stroke="#eaa0a0" stroke-width="1.8"/>
</g>
<g clip-path="url(#clipc)" fill="none" stroke-linejoin="round">
<path stroke="#0000f0" stroke-width="0.80" d="M54.80 356.52C57.04 356.39 61.52 356.56 68.23 355.72C74.95 354.88 86.15 352.80 95.10 351.49C104.06 350.19 117.50 348.48 121.97 347.87M323.50 356.52C321.26 356.39 316.78 356.56 310.06 355.72C303.35 354.88 292.15 352.80 283.19 351.49C274.24 350.19 260.80 348.48 256.32 347.87M121.97 347.87C125.56 348.41 136.08 349.01 143.47 351.09C150.86 353.17 158.70 357.54 166.31 360.35C173.92 363.15 185.34 366.65 189.15 367.91M256.32 347.87C252.74 348.41 242.22 349.01 234.83 351.09C227.44 353.17 219.60 357.54 211.99 360.35C204.38 363.15 192.96 366.65 189.15 367.91M54.80 356.52C57.04 356.39 61.52 356.56 68.23 355.72C74.95 354.88 86.15 352.80 95.10 351.49C104.06 350.19 117.50 348.48 121.97 347.87M323.50 356.52C321.26 356.39 316.78 356.56 310.06 355.72C303.35 354.88 292.15 352.80 283.19 351.49C274.24 350.19 260.80 348.48 256.32 347.87M121.97 347.87C127.57 347.64 144.37 347.13 155.56 346.46C166.76 345.79 183.55 344.28 189.15 343.85M256.32 347.87C250.73 347.64 233.93 347.13 222.74 346.46C211.54 345.79 194.75 344.28 189.15 343.85M54.80 328.96C57.93 329.33 66.89 329.63 73.61 331.17C80.33 332.72 87.04 336.10 95.10 338.21C103.17 340.33 117.50 342.91 121.97 343.85M323.50 328.96C320.37 329.33 311.41 329.63 304.69 331.17C297.97 332.72 291.26 336.10 283.19 338.21C275.13 340.33 260.80 342.91 256.32 343.85M121.97 343.85C125.56 344.55 136.08 345.83 143.47 348.07C150.86 350.32 158.70 354.11 166.31 357.33C173.92 360.55 185.34 365.71 189.15 367.39M256.32 343.85C252.74 344.55 242.22 345.83 234.83 348.07C227.44 350.32 219.60 354.11 211.99 357.33C204.38 360.55 192.96 365.71 189.15 367.39M54.80 328.96C57.93 329.33 66.89 329.63 73.61 331.17C80.33 332.72 87.04 336.00 95.10 338.21C103.17 340.43 117.50 343.41 121.97 344.45M323.50 328.96C320.37 329.33 311.41 329.63 304.69 331.17C297.97 332.72 291.26 336.00 283.19 338.21C275.13 340.43 260.80 343.41 256.32 344.45M121.97 344.45C127.57 344.05 144.37 343.04 155.56 342.04C166.76 341.03 183.55 339.02 189.15 338.42M256.32 344.45C250.73 344.05 233.93 343.04 222.74 342.04C211.54 341.03 194.75 339.02 189.15 338.42M54.80 331.78C58.16 331.47 63.76 330.87 74.95 329.97C86.15 329.06 114.14 326.95 121.97 326.34M323.50 331.78C320.14 331.47 314.54 330.87 303.35 329.97C292.15 329.06 264.16 326.95 256.32 326.34M121.97 326.34C125.33 326.34 134.74 325.44 142.13 326.34C149.52 327.25 158.47 330.33 166.31 331.78C174.15 333.22 185.34 334.46 189.15 335.00M256.32 326.34C252.97 326.34 243.56 325.44 236.17 326.34C228.78 327.25 219.83 330.33 211.99 331.78C204.15 333.22 192.96 334.46 189.15 335.00M54.80 328.96C60.40 328.79 77.19 328.39 88.39 327.95C99.58 327.52 116.38 326.61 121.97 326.34M323.50 328.96C317.90 328.79 301.11 328.39 289.91 327.95C278.72 327.52 261.92 326.61 256.32 326.34M121.97 326.34C125.33 326.51 134.74 326.01 142.13 327.35C149.52 328.69 158.47 332.55 166.31 334.39C174.15 336.24 185.34 337.75 189.15 338.42M256.32 326.34C252.97 326.51 243.56 326.01 236.17 327.35C228.78 328.69 219.83 332.55 211.99 334.39C204.15 336.24 192.96 337.75 189.15 338.42M54.80 321.92L121.97 318.09M323.50 321.92L256.32 318.09M121.97 318.09C125.33 318.20 134.74 317.63 142.13 318.70C149.52 319.77 158.47 323.53 166.31 324.53C174.15 325.54 185.34 324.70 189.15 324.73M256.32 318.09C252.97 318.20 243.56 317.63 236.17 318.70C228.78 319.77 219.83 323.53 211.99 324.53C204.15 325.54 192.96 324.70 189.15 324.73M54.80 318.50L121.97 315.88M323.50 318.50L256.32 315.88M121.97 315.88L189.15 318.30M256.32 315.88L189.15 318.30M54.80 319.91L121.97 317.89M323.50 319.91L256.32 317.89M121.97 317.89L189.15 319.30M256.32 317.89L189.15 319.30M54.80 308.24C58.16 308.57 63.76 308.97 74.95 310.25C86.15 311.52 114.14 314.94 121.97 315.88M323.50 308.24C320.14 308.57 314.54 308.97 303.35 310.25C292.15 311.52 264.16 314.94 256.32 315.88M121.97 315.88L189.15 317.29M256.32 315.88L189.15 317.29M54.80 308.24L121.97 311.46M323.50 308.24L256.32 311.46M121.97 311.46C125.33 311.29 134.74 311.62 142.13 310.45C149.52 309.28 158.47 305.65 166.31 304.41C174.15 303.17 185.34 303.24 189.15 303.00M256.32 311.46C252.97 311.29 243.56 311.62 236.17 310.45C228.78 309.28 219.83 305.65 211.99 304.41C204.15 303.17 192.96 303.24 189.15 303.00M54.80 305.42L121.97 306.83M323.50 305.42L256.32 306.83M121.97 306.83C125.33 306.22 130.93 304.98 142.13 303.21C153.32 301.43 181.31 297.34 189.15 296.16M256.32 306.83C252.97 306.22 247.37 304.98 236.17 303.21C224.98 301.43 196.99 297.34 189.15 296.16M54.80 304.21C60.40 303.54 77.19 301.53 88.39 300.19C99.58 298.85 116.38 296.83 121.97 296.16M323.50 304.21C317.90 303.54 301.11 301.53 289.91 300.19C278.72 298.85 261.92 296.83 256.32 296.16M54.80 309.04C60.40 309.58 77.19 311.56 88.39 312.26C99.58 312.96 116.38 313.10 121.97 313.27M323.50 309.04C317.90 309.58 301.11 311.56 289.91 312.26C278.72 312.96 261.92 313.10 256.32 313.27M121.97 313.27C127.57 313.60 144.37 314.78 155.56 315.28C166.76 315.78 183.55 316.12 189.15 316.28M256.32 313.27C250.73 313.60 233.93 314.78 222.74 315.28C211.54 315.78 194.75 316.12 189.15 316.28M54.80 475.63C60.40 475.80 77.19 476.31 88.39 476.64C99.58 476.98 116.38 477.48 121.97 477.65M323.50 475.63C317.90 475.80 301.11 476.31 289.91 476.64C278.72 476.98 261.92 477.48 256.32 477.65M121.97 477.65C127.57 477.24 144.37 476.14 155.56 475.23C166.76 474.33 183.55 472.72 189.15 472.21M256.32 477.65C250.73 477.24 233.93 476.14 222.74 475.23C211.54 474.33 194.75 472.72 189.15 472.21"/>
<path stroke="#0000f0" stroke-width="0.90" d="M54.80 477.04C60.40 477.14 77.19 477.41 88.39 477.65C99.58 477.88 116.38 478.32 121.97 478.45M323.50 477.04C317.90 477.14 301.11 477.41 289.91 477.65C278.72 477.88 261.92 478.32 256.32 478.45M121.97 478.45C125.33 478.25 135.41 478.12 142.13 477.24C148.84 476.37 154.44 474.76 162.28 473.22C170.12 471.68 184.67 468.86 189.15 467.99M256.32 478.45C252.97 478.25 242.89 478.12 236.17 477.24C229.46 476.37 223.86 474.76 216.02 473.22C208.18 471.68 193.63 468.86 189.15 467.99M54.80 479.26C60.40 479.26 77.19 479.19 88.39 479.26C99.58 479.32 116.38 479.59 121.97 479.66M323.50 479.26C317.90 479.26 301.11 479.19 289.91 479.26C278.72 479.32 261.92 479.59 256.32 479.66M121.97 479.66C125.33 479.46 135.41 479.32 142.13 478.45C148.84 477.58 154.44 475.97 162.28 474.43C170.12 472.88 184.67 470.07 189.15 469.20M256.32 479.66C252.97 479.46 242.89 479.32 236.17 478.45C229.46 477.58 223.86 475.97 216.02 474.43C208.18 472.88 193.63 470.07 189.15 469.20"/>
<path stroke="#0000f0" stroke-width="1.00" d="M54.80 462.15C58.16 462.05 68.23 461.92 74.95 461.55C81.67 461.18 88.39 460.41 95.10 459.94C101.82 459.47 110.78 459.00 115.26 458.73C119.74 458.47 120.86 458.40 121.97 458.33M323.50 462.15C320.14 462.05 310.07 461.92 303.35 461.55C296.63 461.18 289.91 460.41 283.19 459.94C276.48 459.47 267.52 459.00 263.04 458.73C258.56 458.47 257.44 458.40 256.32 458.33M121.97 458.33L189.15 459.14M256.32 458.33L189.15 459.14M54.80 466.98C60.40 466.82 77.19 466.45 88.39 465.98C99.58 465.51 116.38 464.47 121.97 464.17M323.50 466.98C317.90 466.82 301.11 466.45 289.91 465.98C278.72 465.51 261.92 464.47 256.32 464.17M121.97 464.17L189.15 462.15M256.32 464.17L189.15 462.15M54.80 468.79C60.40 468.99 77.19 469.60 88.39 470.00C99.58 470.40 116.38 471.01 121.97 471.21M323.50 468.79C317.90 468.99 301.11 469.60 289.91 470.00C278.72 470.40 261.92 471.01 256.32 471.21M121.97 471.21C127.57 471.04 144.37 470.70 155.56 470.20C166.76 469.70 183.55 468.53 189.15 468.19M256.32 471.21C250.73 471.04 233.93 470.70 222.74 470.20C211.54 469.70 194.75 468.53 189.15 468.19M54.80 474.02C58.16 473.72 68.23 473.29 74.95 472.21C81.67 471.14 87.27 469.36 95.10 467.59C102.94 465.81 117.50 462.56 121.97 461.55M323.50 474.02C320.14 473.72 310.07 473.29 303.35 472.21C296.63 471.14 291.03 469.36 283.19 467.59C275.36 465.81 260.80 462.56 256.32 461.55M121.97 461.55L189.15 460.75M256.32 461.55L189.15 460.75M54.80 482.68C60.40 482.66 77.19 482.61 88.39 482.58C99.58 482.54 116.38 482.49 121.97 482.48M323.50 482.68C317.90 482.66 301.11 482.61 289.91 482.58C278.72 482.54 261.92 482.49 256.32 482.48M121.97 482.48C127.57 482.48 144.37 482.48 155.56 482.48C166.76 482.48 183.55 482.48 189.15 482.48M256.32 482.48C250.73 482.48 233.93 482.48 222.74 482.48C211.54 482.48 194.75 482.48 189.15 482.48M54.80 483.48C60.40 483.51 77.19 483.62 88.39 483.68C99.58 483.75 116.38 483.85 121.97 483.88M323.50 483.48C317.90 483.51 301.11 483.62 289.91 483.68C278.72 483.75 261.92 483.85 256.32 483.88M121.97 483.88C127.57 484.65 144.37 487.04 155.56 488.51C166.76 489.99 183.55 492.03 189.15 492.74M256.32 483.88C250.73 484.65 233.93 487.04 222.74 488.51C211.54 489.99 194.75 492.03 189.15 492.74M54.80 485.29C60.40 486.26 77.19 489.22 88.39 491.13C99.58 493.04 116.38 495.82 121.97 496.76M323.50 485.29C317.90 486.26 301.11 489.22 289.91 491.13C278.72 493.04 261.92 495.82 256.32 496.76M121.97 496.76C127.13 497.87 141.68 501.29 152.88 503.40C164.07 505.51 183.10 508.43 189.15 509.44M256.32 496.76C251.17 497.87 236.62 501.29 225.42 503.40C214.23 505.51 195.20 508.43 189.15 509.44M54.80 501.79C60.40 501.39 77.19 500.21 88.39 499.38C99.58 498.54 116.38 497.20 121.97 496.76M323.50 501.79C317.90 501.39 301.11 500.21 289.91 499.38C278.72 498.54 261.92 497.20 256.32 496.76M121.97 496.76C127.57 496.43 144.37 495.42 155.56 494.75C166.76 494.08 183.55 493.07 189.15 492.74M256.32 496.76C250.73 496.43 233.93 495.42 222.74 494.75C211.54 494.08 194.75 493.07 189.15 492.74"/>
<path stroke="#0000f0" stroke-width="1.10" d="M54.80 446.46C60.40 446.29 79.43 445.92 88.39 445.45C97.34 444.98 102.94 444.08 108.54 443.64C114.14 443.21 119.74 442.97 121.97 442.84M323.50 446.46C317.90 446.29 298.87 445.92 289.91 445.45C280.96 444.98 275.36 444.08 269.76 443.64C264.16 443.21 258.56 442.97 256.32 442.84M121.97 442.84L189.15 444.65M256.32 442.84L189.15 444.65M54.80 455.72C60.40 455.82 78.31 456.02 88.39 456.32C98.46 456.62 109.66 457.26 115.26 457.53C120.86 457.79 120.86 457.86 121.97 457.93M323.50 455.72C317.90 455.82 299.99 456.02 289.91 456.32C279.84 456.62 268.64 457.26 263.04 457.53C257.44 457.79 257.44 457.86 256.32 457.93M121.97 457.93L189.15 458.73M256.32 457.93L189.15 458.73M54.80 462.56C60.40 462.37 77.19 461.82 88.39 461.45C99.58 461.08 116.38 460.53 121.97 460.34M323.50 462.56C317.90 462.37 301.11 461.82 289.91 461.45C278.72 461.08 261.92 460.53 256.32 460.34M121.97 460.34C127.57 460.28 144.37 460.07 155.56 459.94C166.76 459.81 183.55 459.61 189.15 459.54M256.32 460.34C250.73 460.28 233.93 460.07 222.74 459.94C211.54 459.81 194.75 459.61 189.15 459.54M54.80 463.56C60.40 463.41 77.19 462.96 88.39 462.66C99.58 462.36 116.38 461.90 121.97 461.75M323.50 463.56C317.90 463.41 301.11 462.96 289.91 462.66C278.72 462.36 261.92 461.90 256.32 461.75M121.97 461.75C127.57 461.68 144.37 461.45 155.56 461.30C166.76 461.15 183.55 460.92 189.15 460.85M256.32 461.75C250.73 461.68 233.93 461.45 222.74 461.30C211.54 461.15 194.75 460.92 189.15 460.85M54.80 464.57C60.40 464.45 77.19 464.10 88.39 463.86C99.58 463.63 116.38 463.28 121.97 463.16M323.50 464.57C317.90 464.45 301.11 464.10 289.91 463.86C278.72 463.63 261.92 463.28 256.32 463.16M121.97 463.16C127.57 463.08 144.37 462.82 155.56 462.66C166.76 462.49 183.55 462.24 189.15 462.15M256.32 463.16C250.73 463.08 233.93 462.82 222.74 462.66C211.54 462.49 194.75 462.24 189.15 462.15"/>
<path stroke="#0000f0" stroke-width="1.20" d="M54.80 481.27C60.40 481.30 77.19 481.40 88.39 481.47C99.58 481.54 116.38 481.64 121.97 481.67M323.50 481.27C317.90 481.30 301.11 481.40 289.91 481.47C278.72 481.54 261.92 481.64 256.32 481.67M121.97 481.67C127.57 481.69 144.37 481.74 155.56 481.77C166.76 481.80 183.55 481.85 189.15 481.87M256.32 481.67C250.73 481.69 233.93 481.74 222.74 481.77C211.54 481.80 194.75 481.85 189.15 481.87"/>
<path stroke="#0000f0" stroke-width="1.30" d="M54.80 438.61C60.40 438.67 77.19 438.83 88.39 438.94C99.58 439.04 116.38 439.20 121.97 439.26M323.50 438.61C317.90 438.67 301.11 438.83 289.91 438.94C278.72 439.04 261.92 439.20 256.32 439.26M121.97 439.26C127.57 439.43 144.37 439.94 155.56 440.28C166.76 440.63 183.55 441.14 189.15 441.31M256.32 439.26C250.73 439.43 233.93 439.94 222.74 440.28C211.54 440.63 194.75 441.14 189.15 441.31M54.80 439.18C60.40 439.11 77.19 438.92 88.39 438.79C99.58 438.67 116.38 438.48 121.97 438.41M323.50 439.18C317.90 439.11 301.11 438.92 289.91 438.79C278.72 438.67 261.92 438.48 256.32 438.41M121.97 438.41C127.57 438.60 144.37 439.15 155.56 439.52C166.76 439.89 183.55 440.44 189.15 440.63M256.32 438.41C250.73 438.60 233.93 439.15 222.74 439.52C211.54 439.89 194.75 440.44 189.15 440.63M54.80 439.74C60.40 439.84 77.19 440.14 88.39 440.34C99.58 440.55 116.38 440.85 121.97 440.95M323.50 439.74C317.90 439.84 301.11 440.14 289.91 440.34C278.72 440.55 261.92 440.85 256.32 440.95M121.97 440.95C127.57 441.09 144.37 441.52 155.56 441.81C166.76 442.10 183.55 442.53 189.15 442.68M256.32 440.95C250.73 441.09 233.93 441.52 222.74 441.81C211.54 442.10 194.75 442.53 189.15 442.68M54.80 440.30C60.40 440.43 77.19 440.80 88.39 441.05C99.58 441.30 116.38 441.67 121.97 441.79M323.50 440.30C317.90 440.43 301.11 440.80 289.91 441.05C278.72 441.30 261.92 441.67 256.32 441.79M121.97 441.79C127.57 441.81 144.37 441.86 155.56 441.89C166.76 441.93 183.55 441.98 189.15 441.99M256.32 441.79C250.73 441.81 233.93 441.86 222.74 441.89C211.54 441.93 194.75 441.98 189.15 441.99M54.80 440.87C60.40 440.80 77.19 440.61 88.39 440.48C99.58 440.36 116.38 440.17 121.97 440.10M323.50 440.87C317.90 440.80 301.11 440.61 289.91 440.48C278.72 440.36 261.92 440.17 256.32 440.10M121.97 440.10C127.57 440.43 144.37 441.42 155.56 442.07C166.76 442.73 183.55 443.72 189.15 444.05M256.32 440.10C250.73 440.43 233.93 441.42 222.74 442.07C211.54 442.73 194.75 443.72 189.15 444.05M54.80 441.43C60.40 441.53 77.19 441.83 88.39 442.03C99.58 442.24 116.38 442.54 121.97 442.64M323.50 441.43C317.90 441.53 301.11 441.83 289.91 442.03C278.72 442.24 261.92 442.54 256.32 442.64M121.97 442.64C127.57 442.70 144.37 442.88 155.56 443.00C166.76 443.12 183.55 443.30 189.15 443.36M256.32 442.64C250.73 442.70 233.93 442.88 222.74 443.00C211.54 443.12 194.75 443.30 189.15 443.36M54.80 447.06C60.40 447.13 77.19 447.33 88.39 447.47C99.58 447.60 116.38 447.80 121.97 447.87M323.50 447.06C317.90 447.13 301.11 447.33 289.91 447.47C278.72 447.60 261.92 447.80 256.32 447.87M121.97 447.87C127.57 447.63 144.37 446.93 155.56 446.46C166.76 445.99 183.55 445.29 189.15 445.05M256.32 447.87C250.73 447.63 233.93 446.93 222.74 446.46C211.54 445.99 194.75 445.29 189.15 445.05M54.80 448.07C60.40 447.73 77.19 446.73 88.39 446.06C99.58 445.39 116.38 444.38 121.97 444.05M323.50 448.07C317.90 447.73 301.11 446.73 289.91 446.06C278.72 445.39 261.92 444.38 256.32 444.05M121.97 444.05C127.57 444.24 144.37 444.83 155.56 445.22C166.76 445.61 183.55 446.20 189.15 446.39M256.32 444.05C250.73 444.24 233.93 444.83 222.74 445.22C211.54 445.61 194.75 446.20 189.15 446.39M54.80 449.08C60.40 448.76 77.19 447.82 88.39 447.20C99.58 446.57 116.38 445.63 121.97 445.32M323.50 449.08C317.90 448.76 301.11 447.82 289.91 447.20C278.72 446.57 261.92 445.63 256.32 445.32M121.97 445.32C127.57 445.63 144.37 446.57 155.56 447.20C166.76 447.82 183.55 448.76 189.15 449.08M256.32 445.32C250.73 445.63 233.93 446.57 222.74 447.20C211.54 447.82 194.75 448.76 189.15 449.08M54.80 450.08C60.40 450.00 77.19 449.77 88.39 449.61C99.58 449.46 116.38 449.22 121.97 449.14M323.50 450.08C317.90 450.00 301.11 449.77 289.91 449.61C278.72 449.46 261.92 449.22 256.32 449.14M121.97 449.14C127.57 449.03 144.37 448.67 155.56 448.44C166.76 448.20 183.55 447.85 189.15 447.73M256.32 449.14C250.73 449.03 233.93 448.67 222.74 448.44C211.54 448.20 194.75 447.85 189.15 447.73M54.80 451.09C60.40 450.71 77.19 449.59 88.39 448.84C99.58 448.09 116.38 446.97 121.97 446.59M323.50 451.09C317.90 450.71 301.11 449.59 289.91 448.84C278.72 448.09 261.92 446.97 256.32 446.59M121.97 446.59C127.57 447.14 144.37 448.76 155.56 449.85C166.76 450.93 183.55 452.56 189.15 453.10M256.32 446.59C250.73 447.14 233.93 448.76 222.74 449.85C211.54 450.93 194.75 452.56 189.15 453.10M54.80 452.09C60.40 451.95 77.19 451.54 88.39 451.26C99.58 450.98 116.38 450.56 121.97 450.42M323.50 452.09C317.90 451.95 301.11 451.54 289.91 451.26C278.72 450.98 261.92 450.56 256.32 450.42M121.97 450.42C127.57 450.53 144.37 450.86 155.56 451.09C166.76 451.31 183.55 451.65 189.15 451.76M256.32 450.42C250.73 450.53 233.93 450.86 222.74 451.09C211.54 451.31 194.75 451.65 189.15 451.76M54.80 453.10C60.40 453.19 77.19 453.48 88.39 453.67C99.58 453.86 116.38 454.15 121.97 454.24M323.50 453.10C317.90 453.19 301.11 453.48 289.91 453.67C278.72 453.86 261.92 454.15 256.32 454.24M121.97 454.24C127.57 453.92 144.37 452.97 155.56 452.33C166.76 451.69 183.55 450.74 189.15 450.42M256.32 454.24C250.73 453.92 233.93 452.97 222.74 452.33C211.54 451.69 194.75 450.74 189.15 450.42M54.80 454.11C60.40 454.01 77.19 453.73 88.39 453.54C99.58 453.35 116.38 453.06 121.97 452.97M323.50 454.11C317.90 454.01 301.11 453.73 289.91 453.54C278.72 453.35 261.92 453.06 256.32 452.97M121.97 452.97C127.57 453.09 144.37 453.46 155.56 453.70C166.76 453.95 183.55 454.32 189.15 454.44M256.32 452.97C250.73 453.09 233.93 453.46 222.74 453.70C211.54 453.95 194.75 454.32 189.15 454.44M54.80 455.11C60.40 454.83 77.19 453.97 88.39 453.40C99.58 452.83 116.38 451.98 121.97 451.69M323.50 455.11C317.90 454.83 301.11 453.97 289.91 453.40C278.72 452.83 261.92 451.98 256.32 451.69M121.97 451.69C127.57 452.14 144.37 453.50 155.56 454.41C166.76 455.31 183.55 456.67 189.15 457.12M256.32 451.69C250.73 452.14 233.93 453.50 222.74 454.41C211.54 455.31 194.75 456.67 189.15 457.12M54.80 456.12C60.40 456.07 77.19 455.92 88.39 455.82C99.58 455.72 116.38 455.56 121.97 455.51M323.50 456.12C317.90 456.07 301.11 455.92 289.91 455.82C278.72 455.72 261.92 455.56 256.32 455.51M121.97 455.51C127.57 455.54 144.37 455.60 155.56 455.65C166.76 455.69 183.55 455.76 189.15 455.78M256.32 455.51C250.73 455.54 233.93 455.60 222.74 455.65C211.54 455.69 194.75 455.76 189.15 455.78"/>
</g>
<rect x="54.80" y="301.80" width="268.70" height="201.60" fill="none" stroke="#000" stroke-width="1.5"/>
<path d="M47.80 503.40H54.80M47.80 402.60H54.80M47.80 301.80H54.80M47.80 367.93H54.80M54.80 503.40V510.40M121.97 503.40V510.40M189.15 503.40V510.40M256.32 503.40V510.40M323.50 503.40V510.40" stroke="#000" stroke-width="1.4" fill="none"/>
<text x="45.50" y="309.40" font-size="19" text-anchor="end">5</text>
<text x="45.50" y="410.20" font-size="19" text-anchor="end">0</text>
<text x="45.50" y="511.00" font-size="19" text-anchor="end">-5</text>
<text x="54.80" y="531.80" font-size="19" text-anchor="middle">G</text>
<text x="121.97" y="531.80" font-size="19" text-anchor="middle">F</text>
<text x="189.15" y="531.80" font-size="19" text-anchor="middle">Q</text>
<text x="256.32" y="531.80" font-size="19" text-anchor="middle">Z</text>
<text x="323.50" y="531.80" font-size="19" text-anchor="middle">G</text>
<text transform="translate(18.80 399.10) rotate(-90)" font-size="19" text-anchor="middle" textLength="98" lengthAdjust="spacingAndGlyphs">Energy (eV)</text>
<text x="51.45" y="294.50" font-size="13.3" style="stroke-width:0.12px" textLength="89.0" lengthAdjust="spacingAndGlyphs">E<tspan font-size="10.8" dy="3.2">g</tspan><tspan dy="-3.2"> = 1.732 eV</tspan></text>
<rect x="288.20" y="307.40" width="31.00" height="29.20" fill="#fff" stroke="#000" stroke-width="1.4"/>
<text x="303.70" y="329.00" font-size="19" text-anchor="middle">(c)</text>
<clipPath id="clipd"><rect x="407.80" y="302.30" width="268.20" height="202.00"/></clipPath>
<line x1="474.85" y1="306.90" x2="474.85" y2="504.30" stroke="#000" stroke-width="1.5" stroke-dasharray="1.6 3.52"/>
<line x1="541.90" y1="306.90" x2="541.90" y2="504.30" stroke="#000" stroke-width="1.5" stroke-dasharray="1.6 3.52"/>
<line x1="608.95" y1="306.90" x2="608.95" y2="504.30" stroke="#000" stroke-width="1.5" stroke-dasharray="1.6 3.52"/>
<g clip-path="url(#clipd)">
<line x1="407.80" y1="403.60" x2="676.00" y2="403.60" stroke="#d41c1c" stroke-width="1.8"/>
</g>
<g clip-path="url(#clipd)" fill="none" stroke-linejoin="round">
<path stroke="#0000f0" stroke-width="0.80" d="M407.80 403.60C409.48 403.50 414.17 403.50 417.86 403.00C421.55 402.49 424.23 402.26 429.93 400.59C435.63 398.91 444.57 395.69 452.05 392.95C459.54 390.20 471.05 385.58 474.85 384.10M676.00 403.60C674.32 403.50 669.63 403.50 665.94 403.00C662.25 402.49 659.57 402.26 653.87 400.59C648.17 398.91 639.23 395.69 631.75 392.95C624.26 390.20 612.75 385.58 608.95 384.10M474.85 384.10C478.65 383.67 490.16 382.66 497.65 381.49C505.13 380.32 512.40 378.74 519.77 377.07C527.15 375.39 538.21 372.38 541.90 371.44M608.95 384.10C605.15 383.67 593.64 382.66 586.15 381.49C578.67 380.32 571.40 378.74 564.03 377.07C556.65 375.39 545.59 372.38 541.90 371.44M407.80 357.97C411.49 358.61 422.55 359.51 429.93 361.79C437.30 364.07 444.57 368.36 452.05 371.64C459.54 374.92 471.05 379.85 474.85 381.49M676.00 357.97C672.31 358.61 661.25 359.51 653.87 361.79C646.50 364.07 639.23 368.36 631.75 371.64C624.26 374.92 612.75 379.85 608.95 381.49M474.85 381.49C478.65 381.22 490.16 380.89 497.65 379.88C505.13 378.88 512.40 377.10 519.77 375.46C527.15 373.82 538.21 370.94 541.90 370.03M608.95 381.49C605.15 381.22 593.64 380.89 586.15 379.88C578.67 378.88 571.40 377.10 564.03 375.46C556.65 373.82 545.59 370.94 541.90 370.03M407.80 357.97C411.49 357.71 418.75 357.74 429.93 356.37C441.10 354.99 467.36 350.84 474.85 349.73M676.00 357.97C672.31 357.71 665.05 357.74 653.87 356.37C642.70 354.99 616.44 350.84 608.95 349.73M474.85 349.73C478.65 350.37 490.16 351.91 497.65 353.55C505.13 355.19 512.40 357.30 519.77 359.58C527.15 361.86 538.21 365.95 541.90 367.22M608.95 349.73C605.15 350.37 593.64 351.91 586.15 353.55C578.67 355.19 571.40 357.30 564.03 359.58C556.65 361.86 545.59 365.95 541.90 367.22M407.80 363.40C411.49 363.13 418.75 362.90 429.93 361.79C441.10 360.69 467.36 357.60 474.85 356.77M676.00 363.40C672.31 363.13 665.05 362.90 653.87 361.79C642.70 360.69 616.44 357.60 608.95 356.77M474.85 356.77C478.65 356.70 490.16 355.53 497.65 356.37C505.13 357.20 512.40 359.88 519.77 361.79C527.15 363.70 538.21 366.82 541.90 367.82M608.95 356.77C605.15 356.70 593.64 355.53 586.15 356.37C578.67 357.20 571.40 359.88 564.03 361.79C556.65 363.70 545.59 366.82 541.90 367.82M407.80 338.88C411.49 339.15 422.55 339.51 429.93 340.49C437.30 341.46 444.57 343.17 452.05 344.71C459.54 346.25 471.05 348.89 474.85 349.73M676.00 338.88C672.31 339.15 661.25 339.51 653.87 340.49C646.50 341.46 639.23 343.17 631.75 344.71C624.26 346.25 612.75 348.89 608.95 349.73M474.85 349.73C478.65 349.53 486.47 349.53 497.65 348.53C508.82 347.52 534.52 344.51 541.90 343.70M608.95 349.73C605.15 349.53 597.33 349.53 586.15 348.53C574.98 347.52 549.28 344.51 541.90 343.70M407.80 339.88C413.39 340.29 430.15 341.59 441.32 342.30C452.50 343.00 469.26 343.80 474.85 344.10M676.00 339.88C670.41 340.29 653.65 341.59 642.48 342.30C631.30 343.00 614.54 343.80 608.95 344.10M474.85 344.10C478.65 344.91 490.16 347.55 497.65 348.93C505.13 350.30 512.40 351.31 519.77 352.35C527.15 353.38 538.21 354.69 541.90 355.16M608.95 344.10C605.15 344.91 593.64 347.55 586.15 348.93C578.67 350.30 571.40 351.31 564.03 352.35C556.65 353.38 545.59 354.69 541.90 355.16M407.80 338.88C413.39 338.44 430.15 337.10 441.32 336.26C452.50 335.43 469.26 334.25 474.85 333.85M676.00 338.88C670.41 338.44 653.65 337.10 642.48 336.26C631.30 335.43 614.54 334.25 608.95 333.85M474.85 333.85C480.44 333.59 497.20 332.88 508.38 332.25C519.55 331.61 536.31 330.40 541.90 330.03M608.95 333.85C603.36 333.59 586.60 332.88 575.42 332.25C564.25 331.61 547.49 330.40 541.90 330.03M407.80 328.63C413.39 329.23 430.15 331.11 441.32 332.25C452.50 333.38 469.26 334.93 474.85 335.46M676.00 328.63C670.41 329.23 653.65 331.11 642.48 332.25C631.30 333.38 614.54 334.93 608.95 335.46M474.85 335.46C478.65 336.00 490.16 337.57 497.65 338.68C505.13 339.78 512.40 341.26 519.77 342.09C527.15 342.93 538.21 343.43 541.90 343.70M608.95 335.46C605.15 336.00 593.64 337.57 586.15 338.68C578.67 339.78 571.40 341.26 564.03 342.09C556.65 342.93 545.59 343.43 541.90 343.70M407.80 327.62L474.85 327.62M676.00 327.62L608.95 327.62M474.85 327.62L541.90 327.62M608.95 327.62L541.90 327.62M407.80 325.61C413.39 326.15 430.15 327.82 441.32 328.83C452.50 329.83 469.26 331.17 474.85 331.64M676.00 325.61C670.41 326.15 653.65 327.82 642.48 328.83C631.30 329.83 614.54 331.17 608.95 331.64M474.85 331.64C480.44 331.91 497.20 332.78 508.38 333.25C519.55 333.72 536.31 334.25 541.90 334.46M608.95 331.64C603.36 331.91 586.60 332.78 575.42 333.25C564.25 333.72 547.49 334.25 541.90 334.46M407.80 328.23C413.39 327.72 430.15 325.98 441.32 325.21C452.50 324.44 469.26 323.87 474.85 323.60M676.00 328.23C670.41 327.72 653.65 325.98 642.48 325.21C631.30 324.44 614.54 323.87 608.95 323.60M474.85 323.60L541.90 325.21M608.95 323.60L541.90 325.21M407.80 322.60C413.39 322.65 430.15 322.80 441.32 322.90C452.50 323.00 469.26 323.15 474.85 323.20M676.00 322.60C670.41 322.65 653.65 322.80 642.48 322.90C631.30 323.00 614.54 323.15 608.95 323.20M474.85 323.20C480.44 323.03 497.20 322.53 508.38 322.20C519.55 321.86 536.31 321.36 541.90 321.19M608.95 323.20C603.36 323.03 586.60 322.53 575.42 322.20C564.25 321.86 547.49 321.36 541.90 321.19M407.80 320.79C413.39 320.70 430.15 320.45 441.32 320.29C452.50 320.12 469.26 319.87 474.85 319.78M676.00 320.79C670.41 320.70 653.65 320.45 642.48 320.29C631.30 320.12 614.54 319.87 608.95 319.78M474.85 319.78C480.44 319.87 497.20 320.12 508.38 320.29C519.55 320.45 536.31 320.70 541.90 320.79M608.95 319.78C603.36 319.87 586.60 320.12 575.42 320.29C564.25 320.45 547.49 320.70 541.90 320.79M407.80 319.18C413.39 319.11 430.15 318.91 441.32 318.78C452.50 318.64 469.26 318.44 474.85 318.38M676.00 319.18C670.41 319.11 653.65 318.91 642.48 318.78C631.30 318.64 614.54 318.44 608.95 318.38M474.85 318.38C480.44 318.38 497.20 318.38 508.38 318.38C519.55 318.38 536.31 318.38 541.90 318.38M608.95 318.38C603.36 318.38 586.60 318.38 575.42 318.38C564.25 318.38 547.49 318.38 541.90 318.38M407.80 317.57C413.39 317.74 430.15 318.24 441.32 318.58C452.50 318.91 469.26 319.41 474.85 319.58M676.00 317.57C670.41 317.74 653.65 318.24 642.48 318.58C631.30 318.91 614.54 319.41 608.95 319.58M474.85 319.58C480.44 319.55 497.20 319.45 508.38 319.38C519.55 319.31 536.31 319.21 541.90 319.18M608.95 319.58C603.36 319.55 586.60 319.45 575.42 319.38C564.25 319.31 547.49 319.21 541.90 319.18M407.80 319.98C413.39 319.72 430.15 318.91 441.32 318.38C452.50 317.84 469.26 317.04 474.85 316.77M676.00 319.98C670.41 319.72 653.65 318.91 642.48 318.38C631.30 317.84 614.54 317.04 608.95 316.77M474.85 316.77C480.44 317.22 497.20 318.58 508.38 319.48C519.55 320.39 536.31 321.74 541.90 322.20M608.95 316.77C603.36 317.22 586.60 318.58 575.42 319.48C564.25 320.39 547.49 321.74 541.90 322.20M407.80 308.53C413.39 308.90 430.15 310.03 441.32 310.74C452.50 311.44 469.26 312.41 474.85 312.75M676.00 308.53C670.41 308.90 653.65 310.03 642.48 310.74C631.30 311.44 614.54 312.41 608.95 312.75M474.85 312.75C480.44 312.61 497.20 312.21 508.38 311.94C519.55 311.68 536.31 311.27 541.90 311.14M608.95 312.75C603.36 312.61 586.60 312.21 575.42 311.94C564.25 311.68 547.49 311.27 541.90 311.14M407.80 312.35C413.39 311.88 430.15 310.57 441.32 309.53C452.50 308.49 469.26 306.68 474.85 306.12M676.00 312.35C670.41 311.88 653.65 310.57 642.48 309.53C631.30 308.49 614.54 306.68 608.95 306.12M474.85 306.12C480.44 306.45 497.20 307.29 508.38 308.12C519.55 308.96 536.31 310.64 541.90 311.14M608.95 306.12C603.36 306.45 586.60 307.29 575.42 308.12C564.25 308.96 547.49 310.64 541.90 311.14M407.80 321.59C413.39 321.46 430.15 320.86 441.32 320.79C452.50 320.72 469.26 321.12 474.85 321.19M676.00 321.59C670.41 321.46 653.65 320.86 642.48 320.79C631.30 320.72 614.54 321.12 608.95 321.19M474.85 321.19C480.44 321.53 497.20 322.60 508.38 323.20C519.55 323.80 536.31 324.54 541.90 324.81M608.95 321.19C603.36 321.53 586.60 322.60 575.42 323.20C564.25 323.80 547.49 324.54 541.90 324.81M407.80 325.41C413.39 325.04 430.15 323.84 441.32 323.20C452.50 322.56 469.26 321.86 474.85 321.59M676.00 325.41C670.41 325.04 653.65 323.84 642.48 323.20C631.30 322.56 614.54 321.86 608.95 321.59M474.85 321.59C480.44 321.46 497.20 321.02 508.38 320.79C519.55 320.55 536.31 320.29 541.90 320.19M608.95 321.59C603.36 321.46 586.60 321.02 575.42 320.79C564.25 320.55 547.49 320.29 541.90 320.19M407.80 316.17C413.39 316.00 430.15 315.26 441.32 315.16C452.50 315.06 469.26 315.50 474.85 315.56M676.00 316.17C670.41 316.00 653.65 315.26 642.48 315.16C631.30 315.06 614.54 315.50 608.95 315.56M474.85 315.56C480.44 315.83 497.20 316.73 508.38 317.17C519.55 317.61 536.31 318.01 541.90 318.18M608.95 315.56C603.36 315.83 586.60 316.73 575.42 317.17C564.25 317.61 547.49 318.01 541.90 318.18M407.80 314.36L474.85 313.15M676.00 314.36L608.95 313.15M474.85 313.15L541.90 312.35M608.95 313.15L541.90 312.35M407.80 311.34L474.85 314.16M676.00 311.34L608.95 314.16M474.85 314.16L541.90 317.17M608.95 314.16L541.90 317.17M407.80 309.13L474.85 312.15M676.00 309.13L608.95 312.15M474.85 312.15C480.44 311.48 497.20 309.47 508.38 308.12C519.55 306.78 536.31 304.78 541.90 304.11M608.95 312.15C603.36 311.48 586.60 309.47 575.42 308.12C564.25 306.78 547.49 304.78 541.90 304.11M407.80 306.12L474.85 305.11M676.00 306.12L608.95 305.11M474.85 305.11L541.90 304.11M608.95 305.11L541.90 304.11M407.80 304.11L474.85 303.10M676.00 304.11L608.95 303.10M474.85 303.10L541.90 301.09M608.95 303.10L541.90 301.09M407.80 309.93C413.39 309.63 430.15 308.66 441.32 308.12C452.50 307.59 469.26 306.95 474.85 306.72M676.00 309.93C670.41 309.63 653.65 308.66 642.48 308.12C631.30 307.59 614.54 306.95 608.95 306.72M474.85 306.72L541.90 311.14M608.95 306.72L541.90 311.14"/>
<path stroke="#0000f0" stroke-width="0.90" d="M407.80 466.92C411.15 466.75 421.21 466.41 427.92 465.91C434.62 465.41 440.21 464.40 448.03 463.90C455.85 463.40 470.38 463.06 474.85 462.90M676.00 466.92C672.65 466.75 662.59 466.41 655.88 465.91C649.18 465.41 643.59 464.40 635.77 463.90C627.95 463.40 613.42 463.06 608.95 462.90M474.85 462.90L541.90 464.91M608.95 462.90L541.90 464.91M407.80 468.93C411.15 468.76 421.21 468.42 427.92 467.92C434.62 467.42 440.21 466.58 448.03 465.91C455.85 465.24 470.38 464.24 474.85 463.90M676.00 468.93C672.65 468.76 662.59 468.42 655.88 467.92C649.18 467.42 643.59 466.58 635.77 465.91C627.95 465.24 613.42 464.24 608.95 463.90M474.85 463.90L541.90 465.91M608.95 463.90L541.90 465.91M407.80 472.95C413.39 472.84 430.15 472.58 441.32 472.34C452.50 472.11 469.26 471.67 474.85 471.54M676.00 472.95C670.41 472.84 653.65 472.58 642.48 472.34C631.30 472.11 614.54 471.67 608.95 471.54M474.85 471.54C480.44 471.44 497.20 471.20 508.38 470.94C519.55 470.67 536.31 470.10 541.90 469.93M608.95 471.54C603.36 471.44 586.60 471.20 575.42 470.94C564.25 470.67 547.49 470.10 541.90 469.93M407.80 473.95C413.39 473.95 430.15 473.95 441.32 473.95C452.50 473.95 469.26 473.95 474.85 473.95M676.00 473.95C670.41 473.95 653.65 473.95 642.48 473.95C631.30 473.95 614.54 473.95 608.95 473.95M474.85 473.95C480.44 473.78 497.20 473.45 508.38 472.95C519.55 472.44 536.31 471.27 541.90 470.94M608.95 473.95C603.36 473.78 586.60 473.45 575.42 472.95C564.25 472.44 547.49 471.27 541.90 470.94M407.80 475.96C411.15 475.63 421.21 474.79 427.92 473.95C434.62 473.11 440.21 471.94 448.03 470.94C455.85 469.93 470.38 468.42 474.85 467.92M676.00 475.96C672.65 475.63 662.59 474.79 655.88 473.95C649.18 473.11 643.59 471.94 635.77 470.94C627.95 469.93 613.42 468.42 608.95 467.92M474.85 467.92L541.90 466.92M608.95 467.92L541.90 466.92M407.80 477.17C413.39 477.30 430.15 477.77 441.32 477.97C452.50 478.17 469.26 478.31 474.85 478.37M676.00 477.17C670.41 477.30 653.65 477.77 642.48 477.97C631.30 478.17 614.54 478.31 608.95 478.37M474.85 478.37C478.20 478.14 488.26 477.70 494.97 476.97C501.67 476.23 507.26 475.02 515.08 473.95C522.90 472.88 537.43 471.10 541.90 470.53M608.95 478.37C605.60 478.14 595.54 477.70 588.84 476.97C582.13 476.23 576.54 475.02 568.72 473.95C560.90 472.88 546.37 471.10 541.90 470.53M407.80 478.37C413.39 478.47 430.15 478.81 441.32 478.98C452.50 479.14 469.26 479.31 474.85 479.38M676.00 478.37C670.41 478.47 653.65 478.81 642.48 478.98C631.30 479.14 614.54 479.31 608.95 479.38M474.85 479.38C478.20 479.14 488.26 478.71 494.97 477.97C501.67 477.23 507.26 476.09 515.08 474.96C522.90 473.82 537.43 471.77 541.90 471.14M608.95 479.38C605.60 479.14 595.54 478.71 588.84 477.97C582.13 477.23 576.54 476.09 568.72 474.96C560.90 473.82 546.37 471.77 541.90 471.14M407.80 479.98C413.39 479.98 430.15 479.91 441.32 479.98C452.50 480.05 469.26 480.31 474.85 480.38M676.00 479.98C670.41 479.98 653.65 479.91 642.48 479.98C631.30 480.05 614.54 480.31 608.95 480.38M474.85 480.38C478.20 480.15 488.26 479.78 494.97 478.98C501.67 478.17 507.26 476.73 515.08 475.56C522.90 474.39 537.43 472.54 541.90 471.94M608.95 480.38C605.60 480.15 595.54 479.78 588.84 478.98C582.13 478.17 576.54 476.73 568.72 475.56C560.90 474.39 546.37 472.54 541.90 471.94M407.80 484.40C413.39 484.42 430.15 484.47 441.32 484.50C452.50 484.54 469.26 484.59 474.85 484.60M676.00 484.40C670.41 484.42 653.65 484.47 642.48 484.50C631.30 484.54 614.54 484.59 608.95 484.60M474.85 484.60C480.44 484.59 497.20 484.54 508.38 484.50C519.55 484.47 536.31 484.42 541.90 484.40M608.95 484.60C603.36 484.59 586.60 484.54 575.42 484.50C564.25 484.47 547.49 484.42 541.90 484.40M407.80 486.01C413.39 486.01 430.15 486.01 441.32 486.01C452.50 486.01 469.26 486.01 474.85 486.01M676.00 486.01C670.41 486.01 653.65 486.01 642.48 486.01C631.30 486.01 614.54 486.01 608.95 486.01M474.85 486.01C480.44 486.01 497.20 486.01 508.38 486.01C519.55 486.01 536.31 486.01 541.90 486.01M608.95 486.01C603.36 486.01 586.60 486.01 575.42 486.01C564.25 486.01 547.49 486.01 541.90 486.01M407.80 487.02C413.39 487.12 430.15 487.48 441.32 487.62C452.50 487.75 469.26 487.79 474.85 487.82M676.00 487.02C670.41 487.12 653.65 487.48 642.48 487.62C631.30 487.75 614.54 487.79 608.95 487.82M474.85 487.82C480.44 488.59 497.20 490.97 508.38 492.44C519.55 493.92 536.31 495.96 541.90 496.66M608.95 487.82C603.36 488.59 586.60 490.97 575.42 492.44C564.25 493.92 547.49 495.96 541.90 496.66M407.80 489.23C413.39 490.00 430.15 492.31 441.32 493.85C452.50 495.39 469.26 497.70 474.85 498.47M676.00 489.23C670.41 490.00 653.65 492.31 642.48 493.85C631.30 495.39 614.54 497.70 608.95 498.47M474.85 498.47C479.99 499.41 494.52 502.16 505.69 504.10C516.87 506.04 535.87 509.12 541.90 510.13M608.95 498.47C603.81 499.41 589.28 502.16 578.11 504.10C566.93 506.04 547.93 509.12 541.90 510.13M407.80 503.70C413.39 503.26 430.15 501.96 441.32 501.09C452.50 500.21 469.26 498.91 474.85 498.47M676.00 503.70C670.41 503.26 653.65 501.96 642.48 501.09C631.30 500.21 614.54 498.91 608.95 498.47M474.85 498.47C480.44 498.34 497.20 497.97 508.38 497.67C519.55 497.37 536.31 496.83 541.90 496.66M608.95 498.47C603.36 498.34 586.60 497.97 575.42 497.67C564.25 497.37 547.49 496.83 541.90 496.66M407.80 504.10C413.39 504.00 430.15 503.66 441.32 503.50C452.50 503.33 469.26 503.16 474.85 503.10M676.00 504.10C670.41 504.00 653.65 503.66 642.48 503.50C631.30 503.33 614.54 503.16 608.95 503.10M474.85 503.10C479.32 503.43 490.50 504.27 501.67 505.11C512.85 505.94 535.19 507.62 541.90 508.12M608.95 503.10C604.48 503.43 593.31 504.27 582.13 505.11C570.95 505.94 548.61 507.62 541.90 508.12"/>
<path stroke="#0000f0" stroke-width="1.00" d="M407.80 464.91C413.39 465.07 430.15 465.68 441.32 465.91C452.50 466.14 469.26 466.25 474.85 466.31M676.00 464.91C670.41 465.07 653.65 465.68 642.48 465.91C631.30 466.14 614.54 466.25 608.95 466.31M474.85 466.31L541.90 467.92M608.95 466.31L541.90 467.92M407.80 471.54C413.39 471.34 430.15 470.73 441.32 470.33C452.50 469.93 469.26 469.33 474.85 469.13M676.00 471.54C670.41 471.34 653.65 470.73 642.48 470.33C631.30 469.93 614.54 469.33 608.95 469.13M474.85 469.13L541.90 468.93M608.95 469.13L541.90 468.93M407.80 481.59C413.39 481.62 430.15 481.72 441.32 481.79C452.50 481.86 469.26 481.96 474.85 481.99M676.00 481.59C670.41 481.62 653.65 481.72 642.48 481.79C631.30 481.86 614.54 481.96 608.95 481.99M474.85 481.99C480.44 481.94 497.20 481.79 508.38 481.69C519.55 481.59 536.31 481.44 541.90 481.39M608.95 481.99C603.36 481.94 586.60 481.79 575.42 481.69C564.25 481.59 547.49 481.44 541.90 481.39M407.80 483.00C413.39 483.03 430.15 483.13 441.32 483.20C452.50 483.26 469.26 483.36 474.85 483.40M676.00 483.00C670.41 483.03 653.65 483.13 642.48 483.20C631.30 483.26 614.54 483.36 608.95 483.40M474.85 483.40C480.44 483.36 497.20 483.26 508.38 483.20C519.55 483.13 536.31 483.03 541.90 483.00M608.95 483.40C603.36 483.36 586.60 483.26 575.42 483.20C564.25 483.13 547.49 483.03 541.90 483.00"/>
<path stroke="#0000f0" stroke-width="1.10" d="M407.80 317.37C413.39 317.50 430.15 317.87 441.32 318.18C452.50 318.48 469.26 319.01 474.85 319.18M676.00 317.37C670.41 317.50 653.65 317.87 642.48 318.18C631.30 318.48 614.54 319.01 608.95 319.18M474.85 319.18C480.44 319.35 497.20 319.85 508.38 320.19C519.55 320.52 536.31 321.02 541.90 321.19M608.95 319.18C603.36 319.35 586.60 319.85 575.42 320.19C564.25 320.52 547.49 321.02 541.90 321.19M407.80 319.38C413.39 319.25 430.15 318.85 441.32 318.58C452.50 318.31 469.26 317.91 474.85 317.77M676.00 319.38C670.41 319.25 653.65 318.85 642.48 318.58C631.30 318.31 614.54 317.91 608.95 317.77M474.85 317.77C480.44 317.94 497.20 318.48 508.38 318.78C519.55 319.08 536.31 319.45 541.90 319.58M608.95 317.77C603.36 317.94 586.60 318.48 575.42 318.78C564.25 319.08 547.49 319.45 541.90 319.58"/>
<path stroke="#0000f0" stroke-width="1.20" d="M407.80 439.78C413.39 439.78 430.15 439.78 441.32 439.78C452.50 439.78 469.26 439.78 474.85 439.78M676.00 439.78C670.41 439.78 653.65 439.78 642.48 439.78C631.30 439.78 614.54 439.78 608.95 439.78M474.85 439.78C480.44 440.03 497.20 440.79 508.38 441.29C519.55 441.79 536.31 442.54 541.90 442.80M608.95 439.78C603.36 440.03 586.60 440.79 575.42 441.29C564.25 441.79 547.49 442.54 541.90 442.80M407.80 440.50C413.39 440.50 430.15 440.50 441.32 440.50C452.50 440.50 469.26 440.50 474.85 440.50M676.00 440.50C670.41 440.50 653.65 440.50 642.48 440.50C631.30 440.50 614.54 440.50 608.95 440.50M474.85 440.50C480.44 440.75 497.20 441.50 508.38 442.01C519.55 442.51 536.31 443.26 541.90 443.51M608.95 440.50C603.36 440.75 586.60 441.50 575.42 442.01C564.25 442.51 547.49 443.26 541.90 443.51M407.80 441.22C413.39 441.22 430.15 441.22 441.32 441.22C452.50 441.22 469.26 441.22 474.85 441.22M676.00 441.22C670.41 441.22 653.65 441.22 642.48 441.22C631.30 441.22 614.54 441.22 608.95 441.22M474.85 441.22C480.44 441.47 497.20 442.22 508.38 442.72C519.55 443.23 536.31 443.98 541.90 444.23M608.95 441.22C603.36 441.47 586.60 442.22 575.42 442.72C564.25 443.23 547.49 443.98 541.90 444.23M407.80 441.93C413.39 442.11 430.15 442.65 441.32 443.01C452.50 443.37 469.26 443.91 474.85 444.09M676.00 441.93C670.41 442.11 653.65 442.65 642.48 443.01C631.30 443.37 614.54 443.91 608.95 444.09M474.85 444.09C480.44 444.22 497.20 444.61 508.38 444.88C519.55 445.14 536.31 445.53 541.90 445.67M608.95 444.09C603.36 444.22 586.60 444.61 575.42 444.88C564.25 445.14 547.49 445.53 541.90 445.67M407.80 442.65C413.39 442.65 430.15 442.65 441.32 442.65C452.50 442.65 469.26 442.65 474.85 442.65M676.00 442.65C670.41 442.65 653.65 442.65 642.48 442.65C631.30 442.65 614.54 442.65 608.95 442.65M474.85 442.65C480.44 442.84 497.20 443.42 508.38 443.80C519.55 444.18 536.31 444.76 541.90 444.95M608.95 442.65C603.36 442.84 586.60 443.42 575.42 443.80C564.25 444.18 547.49 444.76 541.90 444.95M407.80 443.37C413.39 443.25 430.15 442.89 441.32 442.65C452.50 442.41 469.26 442.05 474.85 441.93M676.00 443.37C670.41 443.25 653.65 442.89 642.48 442.65C631.30 442.41 614.54 442.05 608.95 441.93M474.85 441.93C480.44 442.36 497.20 443.66 508.38 444.52C519.55 445.38 536.31 446.67 541.90 447.10M608.95 441.93C603.36 442.36 586.60 443.66 575.42 444.52C564.25 445.38 547.49 446.67 541.90 447.10M407.80 444.09C413.39 444.03 430.15 443.85 441.32 443.73C452.50 443.61 469.26 443.43 474.85 443.37M676.00 444.09C670.41 444.03 653.65 443.85 642.48 443.73C631.30 443.61 614.54 443.43 608.95 443.37M474.85 443.37C480.44 443.74 497.20 444.85 508.38 445.59C519.55 446.34 536.31 447.45 541.90 447.82M608.95 443.37C603.36 443.74 586.60 444.85 575.42 445.59C564.25 446.34 547.49 447.45 541.90 447.82M407.80 444.81C413.39 444.81 430.15 444.81 441.32 444.81C452.50 444.81 469.26 444.81 474.85 444.81M676.00 444.81C670.41 444.81 653.65 444.81 642.48 444.81C631.30 444.81 614.54 444.81 608.95 444.81M474.85 444.81C480.44 444.94 497.20 445.33 508.38 445.59C519.55 445.86 536.31 446.25 541.90 446.38M608.95 444.81C603.36 444.94 586.60 445.33 575.42 445.59C564.25 445.86 547.49 446.25 541.90 446.38M407.80 446.21C413.39 446.18 430.15 446.08 441.32 446.01C452.50 445.94 469.26 445.84 474.85 445.81M676.00 446.21C670.41 446.18 653.65 446.08 642.48 446.01C631.30 445.94 614.54 445.84 608.95 445.81M474.85 445.81C480.44 446.06 497.20 446.81 508.38 447.32C519.55 447.82 536.31 448.57 541.90 448.83M608.95 445.81C603.36 446.06 586.60 446.81 575.42 447.32C564.25 447.82 547.49 448.57 541.90 448.83M407.80 447.36C413.39 447.33 430.15 447.24 441.32 447.18C452.50 447.12 469.26 447.03 474.85 447.00M676.00 447.36C670.41 447.33 653.65 447.24 642.48 447.18C631.30 447.12 614.54 447.03 608.95 447.00M474.85 447.00C480.44 447.25 497.20 448.00 508.38 448.51C519.55 449.01 536.31 449.76 541.90 450.01M608.95 447.00C603.36 447.25 586.60 448.00 575.42 448.51C564.25 449.01 547.49 449.76 541.90 450.01M407.80 448.51C413.39 448.98 430.15 450.38 441.32 451.32C452.50 452.25 469.26 453.66 474.85 454.12M676.00 448.51C670.41 448.98 653.65 450.38 642.48 451.32C631.30 452.25 614.54 453.66 608.95 454.12M474.85 454.12C480.44 454.08 497.20 453.94 508.38 453.85C519.55 453.76 536.31 453.62 541.90 453.58M608.95 454.12C603.36 454.08 586.60 453.94 575.42 453.85C564.25 453.76 547.49 453.62 541.90 453.58M407.80 449.67C413.39 449.64 430.15 449.57 441.32 449.52C452.50 449.47 469.26 449.40 474.85 449.37M676.00 449.67C670.41 449.64 653.65 449.57 642.48 449.52C631.30 449.47 614.54 449.40 608.95 449.37M474.85 449.37C480.44 449.62 497.20 450.38 508.38 450.88C519.55 451.38 536.31 452.14 541.90 452.39M608.95 449.37C603.36 449.62 586.60 450.38 575.42 450.88C564.25 451.38 547.49 452.14 541.90 452.39M407.80 450.82C413.39 450.60 430.15 449.94 441.32 449.50C452.50 449.06 469.26 448.40 474.85 448.19M676.00 450.82C670.41 450.60 653.65 449.94 642.48 449.50C631.30 449.06 614.54 448.40 608.95 448.19M474.85 448.19C480.44 448.44 497.20 449.19 508.38 449.69C519.55 450.20 536.31 450.95 541.90 451.20M608.95 448.19C603.36 448.44 586.60 449.19 575.42 449.69C564.25 450.20 547.49 450.95 541.90 451.20M407.80 451.97C413.39 451.85 430.15 451.50 441.32 451.26C452.50 451.03 469.26 450.68 474.85 450.56M676.00 451.97C670.41 451.85 653.65 451.50 642.48 451.26C631.30 451.03 614.54 450.68 608.95 450.56M474.85 450.56C480.44 451.01 497.20 452.36 508.38 453.26C519.55 454.15 536.31 455.50 541.90 455.95M608.95 450.56C603.36 451.01 586.60 452.36 575.42 453.26C564.25 454.15 547.49 455.50 541.90 455.95M407.80 453.12C413.39 453.10 430.15 453.06 441.32 453.03C452.50 453.00 469.26 452.95 474.85 452.94M676.00 453.12C670.41 453.10 653.65 453.06 642.48 453.03C631.30 453.00 614.54 452.95 608.95 452.94M474.85 452.94C480.44 453.29 497.20 454.34 508.38 455.04C519.55 455.74 536.31 456.79 541.90 457.14M608.95 452.94C603.36 453.29 586.60 454.34 575.42 455.04C564.25 455.74 547.49 456.79 541.90 457.14M407.80 454.27C413.39 454.06 430.15 453.43 441.32 453.01C452.50 452.59 469.26 451.96 474.85 451.75M676.00 454.27C670.41 454.06 653.65 453.43 642.48 453.01C631.30 452.59 614.54 451.96 608.95 451.75M474.85 451.75C480.44 452.00 497.20 452.75 508.38 453.26C519.55 453.76 536.31 454.51 541.90 454.76M608.95 451.75C603.36 452.00 586.60 452.75 575.42 453.26C564.25 453.76 547.49 454.51 541.90 454.76M407.80 455.42C413.39 455.61 430.15 456.18 441.32 456.55C452.50 456.93 469.26 457.50 474.85 457.69M676.00 455.42C670.41 455.61 653.65 456.18 642.48 456.55C631.30 456.93 614.54 457.50 608.95 457.69M474.85 457.69C480.44 458.04 497.20 459.09 508.38 459.79C519.55 460.49 536.31 461.54 541.90 461.89M608.95 457.69C603.36 458.04 586.60 459.09 575.42 459.79C564.25 460.49 547.49 461.54 541.90 461.89M407.80 456.57C413.39 456.57 430.15 456.55 441.32 456.54C452.50 456.52 469.26 456.51 474.85 456.50M676.00 456.57C670.41 456.57 653.65 456.55 642.48 456.54C631.30 456.52 614.54 456.51 608.95 456.50M474.85 456.50C480.44 456.75 497.20 457.50 508.38 458.01C519.55 458.51 536.31 459.26 541.90 459.51M608.95 456.50C603.36 456.75 586.60 457.50 575.42 458.01C564.25 458.51 547.49 459.26 541.90 459.51M407.80 457.72C413.39 457.52 430.15 456.92 441.32 456.52C452.50 456.12 469.26 455.51 474.85 455.31M676.00 457.72C670.41 457.52 653.65 456.92 642.48 456.52C631.30 456.12 614.54 455.51 608.95 455.31M474.85 455.31C480.44 455.56 497.20 456.32 508.38 456.82C519.55 457.32 536.31 458.08 541.90 458.33M608.95 455.31C603.36 455.56 586.60 456.32 575.42 456.82C564.25 457.32 547.49 458.08 541.90 458.33M407.80 458.88C413.39 458.88 430.15 458.88 441.32 458.88C452.50 458.88 469.26 458.88 474.85 458.88M676.00 458.88C670.41 458.88 653.65 458.88 642.48 458.88C631.30 458.88 614.54 458.88 608.95 458.88M474.85 458.88C480.44 459.03 497.20 459.48 508.38 459.79C519.55 460.09 536.31 460.55 541.90 460.70M608.95 458.88C603.36 459.03 586.60 459.48 575.42 459.79C564.25 460.09 547.49 460.55 541.90 460.70M407.80 460.28C413.39 460.41 430.15 460.80 441.32 461.05C452.50 461.31 469.26 461.69 474.85 461.82M676.00 460.28C670.41 460.41 653.65 460.80 642.48 461.05C631.30 461.31 614.54 461.69 608.95 461.82M474.85 461.82C480.44 462.02 497.20 462.63 508.38 463.03C519.55 463.43 536.31 464.03 541.90 464.24M608.95 461.82C603.36 462.02 586.60 462.63 575.42 463.03C564.25 463.43 547.49 464.03 541.90 464.24M407.80 461.29C413.39 461.20 430.15 460.95 441.32 460.78C452.50 460.62 469.26 460.37 474.85 460.28M676.00 461.29C670.41 461.20 653.65 460.95 642.48 460.78C631.30 460.62 614.54 460.37 608.95 460.28M474.85 460.28C480.44 460.50 497.20 461.15 508.38 461.59C519.55 462.02 536.31 462.68 541.90 462.90M608.95 460.28C603.36 460.50 586.60 461.15 575.42 461.59C564.25 462.02 547.49 462.68 541.90 462.90M407.80 462.29C413.39 462.51 430.15 463.16 441.32 463.60C452.50 464.03 469.26 464.69 474.85 464.91M676.00 462.29C670.41 462.51 653.65 463.16 642.48 463.60C631.30 464.03 614.54 464.69 608.95 464.91M474.85 464.91C480.44 465.07 497.20 465.58 508.38 465.91C519.55 466.25 536.31 466.75 541.90 466.92M608.95 464.91C603.36 465.07 586.60 465.58 575.42 465.91C564.25 466.25 547.49 466.75 541.90 466.92M407.80 463.30C413.39 463.30 430.15 463.32 441.32 463.33C452.50 463.34 469.26 463.36 474.85 463.36M676.00 463.30C670.41 463.30 653.65 463.32 642.48 463.33C631.30 463.34 614.54 463.36 608.95 463.36M474.85 463.36C480.44 463.55 497.20 464.10 508.38 464.47C519.55 464.84 536.31 465.39 541.90 465.57M608.95 463.36C603.36 463.55 586.60 464.10 575.42 464.47C564.25 464.84 547.49 465.39 541.90 465.57"/>
</g>
<rect x="407.80" y="302.30" width="268.20" height="202.00" fill="none" stroke="#000" stroke-width="1.5"/>
<path d="M400.80 504.30H407.80M400.80 403.30H407.80M400.80 302.30H407.80M407.80 504.30V511.30M474.85 504.30V511.30M541.90 504.30V511.30M608.95 504.30V511.30M676.00 504.30V511.30" stroke="#000" stroke-width="1.4" fill="none"/>
<text x="398.50" y="309.90" font-size="19" text-anchor="end">5</text>
<text x="398.50" y="410.90" font-size="19" text-anchor="end">0</text>
<text x="398.50" y="511.90" font-size="19" text-anchor="end">-5</text>
<text x="407.80" y="532.70" font-size="19" text-anchor="middle">G</text>
<text x="474.85" y="532.70" font-size="19" text-anchor="middle">F</text>
<text x="541.90" y="532.70" font-size="19" text-anchor="middle">Q</text>
<text x="608.95" y="532.70" font-size="19" text-anchor="middle">Z</text>
<text x="676.00" y="532.70" font-size="19" text-anchor="middle">G</text>
<text transform="translate(371.80 399.80) rotate(-90)" font-size="19" text-anchor="middle" textLength="98" lengthAdjust="spacingAndGlyphs">Energy (eV)</text>
<text x="403.60" y="295.00" font-size="13.3" style="stroke-width:0.12px" textLength="62.0" lengthAdjust="spacingAndGlyphs">E<tspan font-size="10.8" dy="3.2">g</tspan><tspan dy="-3.2"> = 0 eV</tspan></text>
<rect x="640.70" y="307.90" width="31.00" height="29.20" fill="#fff" stroke="#000" stroke-width="1.4"/>
<text x="656.20" y="329.50" font-size="19" text-anchor="middle">(d)</text>
<rect x="237.50" y="570.90" width="269.20" height="201.50" fill="none" stroke="#000" stroke-width="1.25"/>
<path d="M230.50 772.40H237.50M230.50 722.02H237.50M230.50 671.65H237.50M230.50 621.27H237.50M230.50 570.90H237.50M237.50 772.40V779.40M318.26 772.40V779.40M385.56 772.40V779.40M466.32 772.40V779.40" stroke="#000" stroke-width="1.25" fill="none"/>
<text x="228.00" y="780.00" font-size="19" text-anchor="end">0.0</text>
<text x="228.00" y="729.62" font-size="19" text-anchor="end">0.5</text>
<text x="228.00" y="679.25" font-size="19" text-anchor="end">1.0</text>
<text x="228.00" y="628.88" font-size="19" text-anchor="end">1.5</text>
<text x="228.00" y="578.50" font-size="19" text-anchor="end">2.0</text>
<text x="237.50" y="801.40" font-size="19" text-anchor="middle">0</text>
<text x="318.26" y="801.40" font-size="19" text-anchor="middle">6</text>
<text x="385.56" y="801.40" font-size="19" text-anchor="middle">11</text>
<text x="466.32" y="801.40" font-size="19" text-anchor="middle">17</text>
<text x="316.60" y="829.40" font-size="19" textLength="109" lengthAdjust="spacingAndGlyphs">Dopping (%)</text>
<text transform="translate(192.70 666.60) rotate(-90)" font-size="19" text-anchor="middle" textLength="122.5" lengthAdjust="spacingAndGlyphs">Band Gap (eV)</text>
<polyline points="237.50,605.86 318.26,597.70 385.56,597.90 466.32,772.40" fill="none" stroke="#0000ee" stroke-width="1.8"/>
<circle cx="237.50" cy="605.86" r="5.1" fill="#0000ff"/>
<circle cx="318.26" cy="597.70" r="5.1" fill="#0000ff"/>
<circle cx="385.56" cy="597.90" r="5.1" fill="#0000ff"/>
<circle cx="466.32" cy="772.40" r="5.1" fill="#0000ff"/>
<rect x="467.20" y="579.30" width="31.50" height="29.70" fill="#fff" stroke="#000" stroke-width="1.25"/>
<text x="482.95" y="601.40" font-size="19" text-anchor="middle">(e)</text>
</svg></body></html>
